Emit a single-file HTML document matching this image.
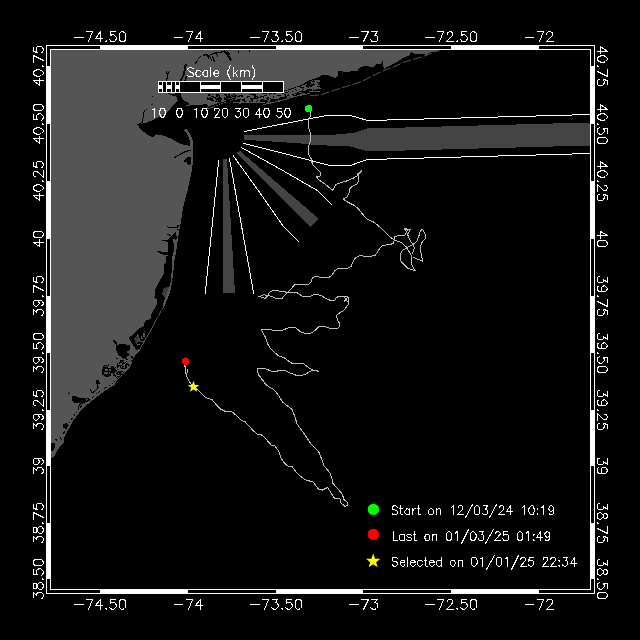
<!DOCTYPE html>
<html><head><meta charset="utf-8"><title>Track map</title>
<style>
html,body{margin:0;padding:0;background:#000;}
body{width:640px;height:640px;overflow:hidden;font-family:"Liberation Sans",sans-serif;}
svg{display:block;}
</style></head><body>
<svg width="640" height="640" viewBox="0 0 640 640" role="img" aria-label="Glider track map">
<title>Track map</title><desc>Scale (km) 10 0 10 20 30 40 50. Start on 12/03/24 10:19. Last on 01/03/25 01:49. Selected on 01/01/25 22:34. Longitude -74.50 to -72, latitude 38.50 to 40.75.</desc>
<polygon shape-rendering="crispEdges" points="51.00,50.00 441.00,50.00 436.00,51.00 430.00,52.40 426.00,55.00 422.50,53.60 415.00,54.00 411.00,52.00 410.00,55.00 405.00,56.75 397.00,62.00 392.50,64.00 384.40,68.60 383.75,68.00 382.50,60.50 381.25,63.60 376.25,64.25 372.50,67.40 367.50,66.00 360.00,66.75 357.50,70.50 343.75,72.40 342.50,71.00 337.50,71.00 338.00,76.00 335.00,78.00 327.50,75.00 321.25,75.00 315.00,80.50 310.00,80.00 300.00,85.50 292.00,88.00 284.00,91.00 270.00,93.00 250.00,94.50 238.00,95.00 238.00,100.00 234.00,99.30 207.20,109.60 206.60,108.60 208.00,105.50 206.00,104.00 200.00,105.00 192.00,105.20 186.00,106.20 185.80,105.20 190.00,104.20 187.00,102.00 182.00,99.00 180.50,93.00 180.50,87.00 175.00,87.00 175.00,93.00 178.50,100.00 171.00,108.00 165.00,114.00 155.00,119.00 146.00,123.00 137.00,124.00 141.25,130.00 146.25,133.75 152.50,137.50 156.25,134.40 163.75,135.60 171.25,138.75 178.75,143.00 185.00,145.00 190.50,146.00 192.80,146.00 193.00,150.00 192.50,165.00 191.90,170.00 188.00,188.75 183.00,207.50 181.00,222.00 179.40,230.00 178.40,236.00 177.00,245.00 175.60,255.00 174.00,262.00 173.75,267.50 172.00,282.50 170.00,292.50 165.00,305.00 158.75,316.00 151.00,331.00 145.00,341.00 140.00,350.00 133.75,357.50 130.00,367.50 122.50,375.00 117.00,380.00 114.75,385.00 106.00,390.00 96.00,397.50 89.75,402.50 83.50,407.50 78.50,413.75 73.60,420.00 68.50,429.40 63.80,437.80 63.80,442.50 58.20,449.00 55.40,454.70 52.50,457.50 51.00,458.00" fill="#555555" />
<polyline points="185.80,63.60 184.80,70.00 183.60,75.00 181.50,79.00 180.00,84.00" fill="none" stroke="#000000" stroke-width="2" shape-rendering="crispEdges"/>
<polygon shape-rendering="crispEdges" points="176.00,92.00 180.00,92.00 181.50,97.00 181.00,101.00 178.00,101.50 176.50,97.00" fill="#000000" />
<polyline points="185.00,81.00 186.50,76.50" fill="none" stroke="#000000" stroke-width="1.6" shape-rendering="crispEdges"/>
<polyline points="195.00,64.00 197.50,60.50" fill="none" stroke="#000000" stroke-width="1" shape-rendering="crispEdges"/>
<polyline points="198.50,59.00 200.60,56.00" fill="none" stroke="#000000" stroke-width="1" shape-rendering="crispEdges"/>
<polyline points="203.00,55.50 206.00,54.50 209.00,55.50 212.00,54.00 215.00,53.00 219.00,52.50 222.50,51.75 225.00,51.00" fill="none" stroke="#000000" stroke-width="1.3" shape-rendering="crispEdges"/>
<polyline points="206.50,54.50 209.00,58.50" fill="none" stroke="#000000" stroke-width="1.3" shape-rendering="crispEdges"/>
<polyline points="209.50,56.00 212.00,61.00" fill="none" stroke="#000000" stroke-width="1.3" shape-rendering="crispEdges"/>
<polyline points="212.50,56.50 214.50,62.00" fill="none" stroke="#000000" stroke-width="1.3" shape-rendering="crispEdges"/>
<polyline points="216.00,53.50 218.00,57.00" fill="none" stroke="#000000" stroke-width="1" shape-rendering="crispEdges"/>
<polyline points="224.00,51.00 227.00,54.00 229.00,57.00 231.00,60.50" fill="none" stroke="#000000" stroke-width="2.2" shape-rendering="crispEdges"/>
<polyline points="227.00,51.50 230.00,55.00" fill="none" stroke="#000000" stroke-width="1.4" shape-rendering="crispEdges"/>
<rect x="238" y="51" width="1" height="2" fill="#000000"/>
<rect x="249" y="50" width="1" height="2" fill="#000000"/>
<polyline points="166.00,71.50 167.50,74.00 167.00,79.00 165.00,84.00 168.00,93.00 172.00,95.00 177.00,95.00" fill="none" stroke="#000000" stroke-width="1.2" shape-rendering="crispEdges"/>
<polyline points="169.50,71.50 167.50,75.00" fill="none" stroke="#000000" stroke-width="1" shape-rendering="crispEdges"/>
<rect x="152" y="96" width="1" height="1" fill="#000000"/>
<rect x="151.5" y="103.5" width="1" height="1.5" fill="#000000"/>
<rect x="146" y="109" width="1" height="1" fill="#000000"/>
<polyline points="145.00,110.50 143.60,112.50 143.00,118.00 142.40,122.50 139.00,124.00" fill="none" stroke="#000000" stroke-width="1" shape-rendering="crispEdges"/>
<polygon shape-rendering="crispEdges" points="209.00,106.00 208.00,108.40 226.00,101.80 226.00,100.80" fill="#000000" />
<polygon shape-rendering="crispEdges" points="238.00,95.00 250.00,94.50 270.00,93.00 284.00,91.00 292.00,88.00 300.00,85.50 310.00,80.00 322.00,76.00 322.00,91.00 310.00,94.00 295.00,97.00 275.00,102.50 262.00,104.50 238.00,104.00" fill="#000000" />
<rect x="264" y="94" width="4" height="1" fill="#555555"/>
<rect x="244" y="97" width="2" height="1" fill="#555555"/>
<rect x="311" y="81" width="1" height="2" fill="#555555"/>
<rect x="271" y="94" width="3" height="2" fill="#555555"/>
<rect x="243" y="97" width="1" height="1" fill="#555555"/>
<rect x="284" y="93" width="1" height="1" fill="#555555"/>
<rect x="283" y="92" width="2" height="1" fill="#555555"/>
<rect x="281" y="94" width="3" height="1" fill="#555555"/>
<rect x="246" y="97" width="1" height="1" fill="#555555"/>
<rect x="246" y="98" width="3" height="1" fill="#555555"/>
<rect x="288" y="92" width="3" height="2" fill="#555555"/>
<rect x="300" y="88" width="2" height="1" fill="#555555"/>
<rect x="262" y="98" width="4" height="1" fill="#555555"/>
<rect x="245" y="96" width="2" height="1" fill="#555555"/>
<rect x="296" y="88" width="1" height="1" fill="#555555"/>
<rect x="279" y="93" width="2" height="1" fill="#555555"/>
<rect x="313" y="82" width="4" height="1" fill="#555555"/>
<rect x="299" y="89" width="2" height="1" fill="#555555"/>
<rect x="294" y="91" width="3" height="2" fill="#555555"/>
<rect x="244" y="95" width="2" height="2" fill="#555555"/>
<rect x="294" y="88" width="4" height="1" fill="#555555"/>
<rect x="290" y="94" width="2" height="1" fill="#555555"/>
<rect x="295" y="92" width="2" height="1" fill="#555555"/>
<rect x="313" y="82" width="3" height="1" fill="#555555"/>
<rect x="277" y="93" width="2" height="1" fill="#555555"/>
<rect x="297" y="89" width="2" height="1" fill="#555555"/>
<rect x="251" y="96" width="2" height="1" fill="#555555"/>
<rect x="304" y="89" width="2" height="2" fill="#555555"/>
<rect x="317" y="83" width="2" height="1" fill="#555555"/>
<rect x="250" y="95" width="1" height="1" fill="#555555"/>
<rect x="239" y="98" width="1" height="1" fill="#555555"/>
<rect x="261" y="95" width="3" height="1" fill="#555555"/>
<rect x="287" y="91" width="1" height="1" fill="#555555"/>
<rect x="275" y="97" width="4" height="2" fill="#555555"/>
<rect x="270" y="95" width="2" height="2" fill="#555555"/>
<rect x="243" y="95" width="1" height="2" fill="#555555"/>
<rect x="251" y="96" width="1" height="1" fill="#555555"/>
<rect x="238" y="95" width="1" height="1" fill="#555555"/>
<rect x="287" y="90" width="1" height="2" fill="#555555"/>
<rect x="250" y="96" width="2" height="1" fill="#555555"/>
<rect x="276" y="93" width="2" height="2" fill="#555555"/>
<rect x="276" y="94" width="1" height="1" fill="#555555"/>
<rect x="298" y="90" width="2" height="1" fill="#555555"/>
<rect x="279" y="93" width="3" height="1" fill="#555555"/>
<rect x="250" y="97" width="1" height="1" fill="#555555"/>
<rect x="316" y="85" width="4" height="1" fill="#555555"/>
<rect x="279" y="96" width="2" height="1" fill="#555555"/>
<rect x="281" y="95" width="2" height="1" fill="#555555"/>
<rect x="287" y="94" width="1" height="1" fill="#555555"/>
<rect x="303" y="88" width="1" height="1" fill="#555555"/>
<rect x="279" y="93" width="1" height="1" fill="#555555"/>
<rect x="301" y="88" width="1" height="1" fill="#555555"/>
<rect x="274" y="97" width="2" height="1" fill="#555555"/>
<rect x="244" y="95" width="2" height="1" fill="#555555"/>
<rect x="265" y="96" width="3" height="1" fill="#555555"/>
<rect x="276" y="96" width="4" height="1" fill="#555555"/>
<rect x="305" y="84" width="2" height="1" fill="#555555"/>
<rect x="276" y="93" width="4" height="1" fill="#555555"/>
<rect x="245" y="99" width="4" height="2" fill="#555555"/>
<rect x="275" y="96" width="1" height="1" fill="#555555"/>
<rect x="252" y="95" width="1" height="2" fill="#555555"/>
<rect x="303" y="85" width="3" height="2" fill="#555555"/>
<rect x="291" y="90" width="3" height="1" fill="#555555"/>
<rect x="240" y="98" width="4" height="1" fill="#555555"/>
<rect x="280" y="96" width="2" height="1" fill="#555555"/>
<rect x="304" y="85" width="2" height="1" fill="#555555"/>
<rect x="261" y="95" width="3" height="1" fill="#555555"/>
<rect x="259" y="96" width="1" height="1" fill="#555555"/>
<rect x="311" y="82" width="2" height="2" fill="#555555"/>
<rect x="304" y="89" width="1" height="1" fill="#555555"/>
<rect x="280" y="92" width="2" height="1" fill="#555555"/>
<rect x="287" y="94" width="1" height="1" fill="#555555"/>
<rect x="249" y="98" width="1" height="1" fill="#555555"/>
<rect x="264" y="96" width="3" height="2" fill="#555555"/>
<rect x="301" y="86" width="3" height="1" fill="#555555"/>
<rect x="258" y="95" width="1" height="2" fill="#555555"/>
<rect x="283" y="95" width="1" height="2" fill="#555555"/>
<rect x="264" y="99" width="3" height="1" fill="#555555"/>
<rect x="293" y="90" width="3" height="2" fill="#555555"/>
<rect x="279" y="93" width="3" height="1" fill="#555555"/>
<rect x="312" y="86" width="1" height="2" fill="#555555"/>
<rect x="249" y="95" width="2" height="1" fill="#555555"/>
<rect x="244" y="96" width="1" height="1" fill="#555555"/>
<rect x="292" y="92" width="1" height="1" fill="#555555"/>
<rect x="249" y="99" width="2" height="1" fill="#555555"/>
<rect x="298" y="87" width="2" height="1" fill="#555555"/>
<rect x="317" y="84" width="1" height="2" fill="#555555"/>
<rect x="318" y="81" width="2" height="1" fill="#555555"/>
<rect x="267" y="94" width="2" height="1" fill="#555555"/>
<rect x="265" y="96" width="4" height="1" fill="#555555"/>
<rect x="269" y="96" width="2" height="1" fill="#555555"/>
<rect x="247" y="99" width="1" height="1" fill="#555555"/>
<rect x="245" y="96" width="1" height="1" fill="#555555"/>
<rect x="298" y="90" width="4" height="1" fill="#555555"/>
<rect x="270" y="96" width="3" height="2" fill="#555555"/>
<rect x="294" y="88" width="1" height="1" fill="#555555"/>
<rect x="272" y="93" width="1" height="1" fill="#555555"/>
<rect x="302" y="85" width="1" height="1" fill="#555555"/>
<rect x="259" y="94" width="1" height="1" fill="#555555"/>
<rect x="318" y="81" width="2" height="1" fill="#555555"/>
<rect x="241" y="98" width="1" height="1" fill="#555555"/>
<rect x="259" y="95" width="2" height="1" fill="#555555"/>
<rect x="280" y="93" width="2" height="1" fill="#555555"/>
<rect x="260" y="98" width="2" height="1" fill="#555555"/>
<rect x="239" y="98" width="3" height="1" fill="#555555"/>
<rect x="279" y="93" width="2" height="1" fill="#555555"/>
<rect x="291" y="92" width="4" height="2" fill="#555555"/>
<rect x="282" y="96" width="3" height="1" fill="#555555"/>
<rect x="293" y="93" width="2" height="1" fill="#555555"/>
<rect x="305" y="88" width="4" height="1" fill="#555555"/>
<rect x="270" y="95" width="1" height="1" fill="#555555"/>
<rect x="239" y="97" width="2" height="2" fill="#555555"/>
<rect x="251" y="95" width="2" height="1" fill="#555555"/>
<rect x="286" y="94" width="1" height="2" fill="#555555"/>
<rect x="253" y="96" width="1" height="1" fill="#555555"/>
<rect x="267" y="95" width="3" height="1" fill="#555555"/>
<rect x="258" y="99" width="2" height="1" fill="#555555"/>
<rect x="267" y="93" width="2" height="1" fill="#555555"/>
<rect x="276" y="95" width="1" height="1" fill="#555555"/>
<rect x="278" y="92" width="2" height="1" fill="#555555"/>
<rect x="250" y="97" width="2" height="1" fill="#555555"/>
<rect x="262" y="97" width="1" height="1" fill="#555555"/>
<rect x="291" y="92" width="3" height="2" fill="#555555"/>
<rect x="299" y="90" width="2" height="1" fill="#555555"/>
<rect x="261" y="97" width="1" height="1" fill="#555555"/>
<rect x="304" y="88" width="3" height="2" fill="#555555"/>
<rect x="297" y="91" width="1" height="1" fill="#555555"/>
<rect x="304" y="87" width="4" height="1" fill="#555555"/>
<rect x="245" y="95" width="4" height="1" fill="#555555"/>
<rect x="315" y="81" width="2" height="1" fill="#555555"/>
<rect x="288" y="92" width="4" height="1" fill="#555555"/>
<rect x="277" y="92" width="1" height="1" fill="#555555"/>
<rect x="291" y="89" width="4" height="2" fill="#555555"/>
<rect x="258" y="94" width="2" height="1" fill="#555555"/>
<rect x="296" y="88" width="4" height="2" fill="#555555"/>
<rect x="278" y="94" width="2" height="1" fill="#555555"/>
<rect x="299" y="89" width="4" height="1" fill="#555555"/>
<rect x="244" y="95" width="2" height="1" fill="#555555"/>
<rect x="288" y="90" width="2" height="1" fill="#555555"/>
<rect x="277" y="97" width="1" height="1" fill="#555555"/>
<rect x="292" y="89" width="3" height="1" fill="#555555"/>
<rect x="275" y="95" width="1" height="1" fill="#555555"/>
<rect x="263" y="94" width="2" height="1" fill="#555555"/>
<rect x="261" y="94" width="3" height="2" fill="#555555"/>
<rect x="318" y="81" width="1" height="1" fill="#555555"/>
<rect x="285" y="91" width="3" height="1" fill="#555555"/>
<rect x="314" y="80" width="4" height="1" fill="#555555"/>
<rect x="309" y="86" width="1" height="2" fill="#555555"/>
<rect x="310" y="84" width="1" height="1" fill="#555555"/>
<rect x="238" y="97" width="2" height="2" fill="#555555"/>
<rect x="262" y="94" width="2" height="2" fill="#555555"/>
<rect x="263" y="98" width="1" height="1" fill="#555555"/>
<rect x="298" y="91" width="1" height="1" fill="#555555"/>
<rect x="295" y="92" width="2" height="1" fill="#555555"/>
<rect x="268" y="95" width="3" height="1" fill="#555555"/>
<rect x="267" y="96" width="2" height="1" fill="#555555"/>
<rect x="260" y="94" width="4" height="1" fill="#555555"/>
<rect x="289" y="90" width="2" height="2" fill="#555555"/>
<rect x="279" y="93" width="2" height="2" fill="#555555"/>
<rect x="309" y="87" width="4" height="2" fill="#555555"/>
<rect x="311" y="87" width="3" height="1" fill="#555555"/>
<rect x="296" y="87" width="4" height="2" fill="#555555"/>
<rect x="274" y="96" width="4" height="1" fill="#555555"/>
<rect x="277" y="97" width="3" height="1" fill="#555555"/>
<rect x="252" y="97" width="2" height="1" fill="#555555"/>
<rect x="258" y="98" width="4" height="1" fill="#555555"/>
<rect x="270" y="94" width="2" height="2" fill="#555555"/>
<rect x="248" y="98" width="1" height="1" fill="#555555"/>
<rect x="278" y="96" width="3" height="1" fill="#555555"/>
<rect x="274" y="94" width="2" height="2" fill="#555555"/>
<rect x="249" y="95" width="1" height="1" fill="#555555"/>
<rect x="265" y="94" width="1" height="1" fill="#555555"/>
<rect x="259" y="97" width="1" height="2" fill="#555555"/>
<rect x="269" y="97" width="1" height="2" fill="#555555"/>
<rect x="260" y="98" width="2" height="1" fill="#555555"/>
<rect x="284" y="93" width="4" height="1" fill="#555555"/>
<rect x="245" y="99" width="2" height="2" fill="#555555"/>
<rect x="290" y="91" width="2" height="1" fill="#555555"/>
<rect x="248" y="97" width="2" height="2" fill="#555555"/>
<rect x="238" y="96" width="3" height="2" fill="#555555"/>
<rect x="316" y="80" width="1" height="1" fill="#555555"/>
<rect x="250" y="97" width="4" height="1" fill="#555555"/>
<rect x="313" y="85" width="4" height="2" fill="#555555"/>
<rect x="245" y="98" width="1" height="1" fill="#555555"/>
<rect x="257" y="99" width="4" height="1" fill="#555555"/>
<rect x="315" y="83" width="3" height="2" fill="#555555"/>
<rect x="294" y="88" width="1" height="1" fill="#555555"/>
<rect x="280" y="94" width="2" height="1" fill="#555555"/>
<rect x="256" y="97" width="1" height="1" fill="#555555"/>
<rect x="318" y="80" width="2" height="1" fill="#555555"/>
<rect x="276" y="93" width="1" height="1" fill="#555555"/>
<rect x="315" y="84" width="2" height="1" fill="#555555"/>
<rect x="240" y="97" width="4" height="2" fill="#555555"/>
<rect x="244" y="96" width="2" height="1" fill="#555555"/>
<rect x="256" y="94" width="2" height="2" fill="#555555"/>
<rect x="267" y="95" width="1" height="1" fill="#555555"/>
<rect x="297" y="89" width="1" height="2" fill="#555555"/>
<rect x="316" y="81" width="1" height="1" fill="#555555"/>
<rect x="275" y="94" width="2" height="1" fill="#555555"/>
<rect x="314" y="83" width="1" height="1" fill="#555555"/>
<rect x="277" y="97" width="1" height="1" fill="#555555"/>
<rect x="312" y="80" width="1" height="1" fill="#555555"/>
<rect x="271" y="97" width="1" height="2" fill="#555555"/>
<rect x="274" y="96" width="2" height="1" fill="#555555"/>
<rect x="318" y="85" width="2" height="1" fill="#555555"/>
<rect x="253" y="99" width="4" height="2" fill="#555555"/>
<rect x="241" y="98" width="2" height="1" fill="#555555"/>
<rect x="317" y="81" width="1" height="1" fill="#555555"/>
<rect x="244" y="95" width="2" height="1" fill="#555555"/>
<rect x="283" y="95" width="2" height="1" fill="#555555"/>
<rect x="299" y="92" width="2" height="1" fill="#555555"/>
<rect x="242" y="101" width="2" height="2" fill="#555555"/>
<rect x="253" y="101" width="2" height="1" fill="#555555"/>
<rect x="289" y="95" width="4" height="2" fill="#555555"/>
<rect x="241" y="99" width="1" height="1" fill="#555555"/>
<rect x="259" y="102" width="3" height="1" fill="#555555"/>
<rect x="267" y="100" width="3" height="1" fill="#555555"/>
<rect x="259" y="102" width="2" height="1" fill="#555555"/>
<rect x="262" y="102" width="3" height="1" fill="#555555"/>
<rect x="240" y="100" width="2" height="2" fill="#555555"/>
<rect x="314" y="88" width="2" height="2" fill="#555555"/>
<rect x="303" y="90" width="2" height="1" fill="#555555"/>
<rect x="239" y="103" width="2" height="1" fill="#555555"/>
<rect x="287" y="96" width="2" height="2" fill="#555555"/>
<rect x="267" y="102" width="1" height="1" fill="#555555"/>
<rect x="269" y="99" width="2" height="1" fill="#555555"/>
<rect x="290" y="95" width="3" height="1" fill="#555555"/>
<rect x="251" y="101" width="1" height="1" fill="#555555"/>
<rect x="259" y="99" width="1" height="2" fill="#555555"/>
<rect x="278" y="100" width="2" height="1" fill="#555555"/>
<rect x="257" y="101" width="3" height="1" fill="#555555"/>
<rect x="298" y="95" width="4" height="1" fill="#555555"/>
<rect x="300" y="92" width="2" height="1" fill="#555555"/>
<rect x="268" y="101" width="1" height="2" fill="#555555"/>
<rect x="258" y="100" width="1" height="1" fill="#555555"/>
<rect x="309" y="91" width="2" height="1" fill="#555555"/>
<rect x="270" y="102" width="3" height="1" fill="#555555"/>
<rect x="290" y="94" width="2" height="1" fill="#555555"/>
<rect x="246" y="101" width="1" height="2" fill="#555555"/>
<rect x="311" y="87" width="2" height="1" fill="#555555"/>
<rect x="248" y="100" width="3" height="1" fill="#555555"/>
<rect x="312" y="89" width="1" height="2" fill="#555555"/>
<rect x="286" y="98" width="4" height="1" fill="#555555"/>
<rect x="246" y="102" width="3" height="1" fill="#555555"/>
<rect x="255" y="101" width="1" height="1" fill="#555555"/>
<rect x="254" y="100" width="3" height="1" fill="#555555"/>
<rect x="303" y="93" width="2" height="1" fill="#555555"/>
<rect x="253" y="101" width="1" height="1" fill="#555555"/>
<rect x="302" y="93" width="1" height="2" fill="#555555"/>
<rect x="246" y="101" width="3" height="1" fill="#555555"/>
<rect x="289" y="94" width="1" height="2" fill="#555555"/>
<rect x="294" y="94" width="2" height="1" fill="#555555"/>
<rect x="271" y="98" width="4" height="1" fill="#555555"/>
<rect x="271" y="98" width="2" height="1" fill="#555555"/>
<rect x="269" y="100" width="1" height="2" fill="#555555"/>
<rect x="234" y="97" width="1" height="2" fill="#000000"/>
<rect x="224" y="97" width="1" height="1" fill="#000000"/>
<rect x="207" y="98" width="3" height="2" fill="#000000"/>
<rect x="210" y="98" width="2" height="1" fill="#000000"/>
<rect x="211" y="96" width="3" height="1" fill="#000000"/>
<rect x="235" y="95" width="2" height="1" fill="#000000"/>
<rect x="216" y="100" width="1" height="2" fill="#000000"/>
<rect x="216" y="98" width="3" height="2" fill="#000000"/>
<rect x="210" y="99" width="3" height="1" fill="#000000"/>
<rect x="226" y="100" width="3" height="2" fill="#000000"/>
<rect x="225" y="95" width="2" height="1" fill="#000000"/>
<rect x="224" y="94" width="3" height="1" fill="#000000"/>
<rect x="219" y="95" width="1" height="1" fill="#000000"/>
<rect x="208" y="98" width="3" height="1" fill="#000000"/>
<rect x="227" y="96" width="2" height="2" fill="#000000"/>
<rect x="224" y="98" width="2" height="2" fill="#000000"/>
<rect x="216" y="96" width="2" height="1" fill="#000000"/>
<rect x="220" y="97" width="1" height="1" fill="#000000"/>
<rect x="226" y="97" width="1" height="2" fill="#000000"/>
<rect x="230" y="99" width="2" height="1" fill="#000000"/>
<rect x="231" y="97" width="1" height="1" fill="#000000"/>
<rect x="218" y="97" width="2" height="1" fill="#000000"/>
<rect x="208" y="95" width="3" height="1" fill="#000000"/>
<rect x="230" y="98" width="1" height="2" fill="#000000"/>
<rect x="227" y="99" width="1" height="1" fill="#000000"/>
<rect x="237" y="99" width="1" height="1" fill="#000000"/>
<rect x="211" y="100" width="2" height="1" fill="#000000"/>
<rect x="228" y="99" width="1" height="1" fill="#000000"/>
<rect x="232" y="98" width="2" height="1" fill="#000000"/>
<rect x="217" y="98" width="2" height="1" fill="#000000"/>
<rect x="215" y="101" width="2" height="1" fill="#000000"/>
<rect x="225" y="98" width="1" height="1" fill="#000000"/>
<rect x="218" y="95" width="2" height="1" fill="#000000"/>
<rect x="226" y="96" width="2" height="2" fill="#000000"/>
<rect x="212" y="99" width="1" height="1" fill="#000000"/>
<rect x="226" y="97" width="2" height="1" fill="#000000"/>
<rect x="215" y="98" width="2" height="1" fill="#000000"/>
<rect x="215" y="101" width="3" height="1" fill="#000000"/>
<rect x="218" y="99" width="2" height="1" fill="#000000"/>
<rect x="212" y="99" width="1" height="1" fill="#000000"/>
<rect x="232" y="96" width="3" height="1" fill="#000000"/>
<rect x="229" y="99" width="1" height="1" fill="#000000"/>
<rect x="216" y="98" width="2" height="1" fill="#000000"/>
<rect x="234" y="95" width="1" height="1" fill="#000000"/>
<rect x="208" y="94" width="2" height="1" fill="#000000"/>
<rect x="210" y="97" width="1" height="2" fill="#000000"/>
<rect x="225" y="98" width="1" height="1" fill="#000000"/>
<rect x="226" y="97" width="1" height="1" fill="#000000"/>
<rect x="235" y="96" width="1" height="2" fill="#000000"/>
<rect x="210" y="98" width="3" height="1" fill="#000000"/>
<rect x="219" y="96" width="1" height="1" fill="#000000"/>
<rect x="226" y="98" width="2" height="2" fill="#000000"/>
<rect x="225" y="98" width="2" height="1" fill="#000000"/>
<rect x="212" y="94" width="1" height="1" fill="#000000"/>
<rect x="219" y="96" width="1" height="1" fill="#000000"/>
<rect x="207" y="97" width="1" height="1" fill="#000000"/>
<rect x="219" y="98" width="3" height="2" fill="#000000"/>
<rect x="231" y="95" width="2" height="1" fill="#000000"/>
<rect x="216" y="94" width="3" height="2" fill="#000000"/>
<rect x="228" y="94" width="2" height="2" fill="#000000"/>
<rect x="209" y="98" width="1" height="1" fill="#000000"/>
<rect x="237" y="96" width="3" height="1" fill="#000000"/>
<rect x="211" y="100" width="3" height="1" fill="#000000"/>
<rect x="228" y="96" width="3" height="2" fill="#000000"/>
<rect x="228" y="100" width="2" height="1" fill="#000000"/>
<rect x="226" y="101" width="1" height="1" fill="#000000"/>
<rect x="233" y="94" width="2" height="1" fill="#000000"/>
<rect x="232" y="95" width="1" height="1" fill="#000000"/>
<rect x="213" y="97" width="3" height="1" fill="#000000"/>
<rect x="218" y="100" width="3" height="2" fill="#000000"/>
<polyline points="184.60,129.60 186.50,131.20 188.40,133.50 190.20,137.00 191.30,141.00 191.90,147.00" fill="none" stroke="#555555" stroke-width="2.7" shape-rendering="crispEdges"/>
<polyline points="174.40,157.50 180.00,154.40 186.25,151.25 191.25,150.00" fill="none" stroke="#000000" stroke-width="1.2" shape-rendering="crispEdges"/>
<polygon shape-rendering="crispEdges" points="184.00,160.00 187.00,157.50 190.50,157.00 191.00,164.00 188.00,165.00 186.50,162.00 184.00,162.50" fill="#000000" />
<polyline points="167.20,226.40 168.50,227.50 176.90,227.50 178.30,225.90" fill="none" stroke="#000000" stroke-width="1" shape-rendering="crispEdges"/>
<rect x="177" y="225" width="2" height="2" fill="#000000"/>
<rect x="177" y="229" width="1.5" height="1" fill="#000000"/>
<polygon shape-rendering="crispEdges" points="176.90,231.40 175.50,234.00 177.20,237.00 176.50,239.50 174.00,240.00 174.00,250.00 172.50,256.00 172.00,262.00 172.00,267.50 170.60,282.50 168.00,290.00 166.00,296.00 163.00,305.00 156.00,317.00 150.60,320.00 150.60,315.00 156.25,306.00 157.50,300.00 154.40,297.50 155.60,288.75 158.75,282.50 163.75,273.75 163.75,265.00 166.00,262.00 166.50,256.00 168.50,255.00 164.00,255.00 160.00,253.50 157.00,251.50 158.00,250.50 162.00,252.00 168.50,251.50 168.40,244.00 168.00,242.00 162.00,240.80 163.00,239.50 168.40,239.50 170.60,236.40 168.75,235.40 166.00,234.20 169.00,234.00 172.00,236.00 175.00,232.00" fill="#000000" />
<rect x="173" y="239" width="2" height="4" fill="#555555"/>
<polygon shape-rendering="crispEdges" points="164.00,288.00 170.00,286.00 169.00,296.00 165.00,298.00 162.00,294.00" fill="#555555" opacity="0.7"/>
<polygon shape-rendering="crispEdges" points="158.75,300.00 163.50,306.00 157.00,317.50 150.50,330.00 144.50,340.00 139.50,349.00 136.00,350.00 135.00,347.50 131.00,342.50 128.75,337.50 132.50,335.00 138.75,328.75 143.75,326.00 145.00,321.00 151.25,318.75 152.50,312.50 158.00,304.00" fill="#000000" />
<polygon shape-rendering="crispEdges" points="134.00,338.00 139.00,335.00 140.00,341.00 136.00,344.00" fill="#555555" opacity="0.6"/>
<polygon shape-rendering="crispEdges" points="112.50,340.60 115.00,340.00 117.00,342.50 117.50,345.00 121.00,344.00 130.00,345.00 130.00,350.00 127.00,351.00 127.00,353.00 131.00,354.00 123.75,358.75 118.75,355.00 115.60,350.00 116.00,344.00" fill="#000000" />
<rect x="122" y="367" width="1" height="1" fill="#000000"/>
<rect x="131" y="365" width="2" height="1" fill="#000000"/>
<rect x="124" y="362" width="2" height="1" fill="#000000"/>
<rect x="121" y="368" width="3" height="1" fill="#000000"/>
<rect x="132" y="358" width="1" height="1" fill="#000000"/>
<rect x="116" y="377" width="1" height="1" fill="#000000"/>
<rect x="117" y="376" width="3" height="1" fill="#000000"/>
<rect x="131" y="356" width="2" height="2" fill="#000000"/>
<rect x="126" y="361" width="1" height="1" fill="#000000"/>
<rect x="115" y="373" width="2" height="1" fill="#000000"/>
<rect x="119" y="362" width="1" height="2" fill="#000000"/>
<rect x="118" y="371" width="1" height="2" fill="#000000"/>
<rect x="125" y="365" width="1" height="2" fill="#000000"/>
<rect x="121" y="365" width="1" height="1" fill="#000000"/>
<rect x="120" y="371" width="3" height="1" fill="#000000"/>
<rect x="119" y="365" width="3" height="1" fill="#000000"/>
<rect x="117" y="372" width="1" height="1" fill="#000000"/>
<rect x="120" y="374" width="1" height="2" fill="#000000"/>
<rect x="125" y="358" width="2" height="1" fill="#000000"/>
<rect x="132" y="360" width="2" height="1" fill="#000000"/>
<rect x="126" y="363" width="2" height="2" fill="#000000"/>
<rect x="128" y="364" width="1" height="1" fill="#000000"/>
<rect x="120" y="361" width="2" height="2" fill="#000000"/>
<rect x="117" y="365" width="3" height="1" fill="#000000"/>
<rect x="125" y="366" width="2" height="2" fill="#000000"/>
<rect x="131" y="360" width="2" height="1" fill="#000000"/>
<rect x="118" y="372" width="3" height="1" fill="#000000"/>
<rect x="116" y="358" width="2" height="1" fill="#000000"/>
<rect x="120" y="360" width="2" height="1" fill="#000000"/>
<rect x="126" y="359" width="2" height="1" fill="#000000"/>
<rect x="128" y="365" width="2" height="1" fill="#000000"/>
<rect x="115" y="375" width="1" height="2" fill="#000000"/>
<rect x="117" y="363" width="1" height="1" fill="#000000"/>
<rect x="122" y="360" width="1" height="2" fill="#000000"/>
<rect x="125" y="364" width="2" height="1" fill="#000000"/>
<rect x="121" y="360" width="3" height="1" fill="#000000"/>
<rect x="126" y="365" width="1" height="2" fill="#000000"/>
<rect x="118" y="371" width="2" height="2" fill="#000000"/>
<polygon shape-rendering="crispEdges" points="103.00,366.00 108.00,364.00 113.00,366.00 117.00,371.00 114.00,377.00 106.00,377.00 101.50,376.00" fill="#000000" />
<rect x="105" y="369" width="2" height="1" fill="#555555"/>
<rect x="105" y="369" width="2" height="2" fill="#555555"/>
<rect x="101" y="375" width="3" height="1" fill="#555555"/>
<rect x="111" y="376" width="2" height="1" fill="#555555"/>
<rect x="105" y="366" width="2" height="1" fill="#555555"/>
<rect x="109" y="365" width="3" height="1" fill="#555555"/>
<rect x="108" y="366" width="2" height="2" fill="#555555"/>
<rect x="109" y="372" width="1" height="2" fill="#555555"/>
<rect x="109" y="369" width="2" height="2" fill="#555555"/>
<rect x="104" y="372" width="2" height="2" fill="#555555"/>
<rect x="109" y="376" width="3" height="1" fill="#555555"/>
<rect x="107" y="364" width="1" height="2" fill="#555555"/>
<rect x="107" y="364" width="1" height="1" fill="#555555"/>
<rect x="107" y="369" width="1" height="2" fill="#555555"/>
<rect x="110" y="365" width="1" height="2" fill="#555555"/>
<rect x="112" y="376" width="3" height="1" fill="#555555"/>
<rect x="104" y="376" width="1" height="1" fill="#555555"/>
<rect x="114" y="372" width="2" height="2" fill="#555555"/>
<rect x="111" y="373" width="2" height="1" fill="#555555"/>
<rect x="106" y="372" width="2" height="2" fill="#555555"/>
<rect x="108" y="367" width="3" height="1" fill="#555555"/>
<rect x="111" y="374" width="2" height="2" fill="#555555"/>
<rect x="113" y="367" width="1" height="2" fill="#000000"/>
<rect x="117" y="373" width="1" height="2" fill="#000000"/>
<rect x="114" y="371" width="1" height="2" fill="#000000"/>
<rect x="117" y="367" width="1" height="1" fill="#000000"/>
<rect x="120" y="366" width="1" height="2" fill="#000000"/>
<rect x="122" y="363" width="1" height="2" fill="#000000"/>
<rect x="120" y="365" width="1" height="1" fill="#000000"/>
<rect x="118" y="374" width="2" height="1" fill="#000000"/>
<rect x="122" y="366" width="2" height="1" fill="#000000"/>
<rect x="111" y="367" width="3" height="1" fill="#000000"/>
<rect x="119" y="373" width="3" height="1" fill="#000000"/>
<rect x="122" y="374" width="2" height="1" fill="#000000"/>
<rect x="117" y="364" width="1" height="1" fill="#000000"/>
<rect x="122" y="368" width="1" height="1" fill="#000000"/>
<rect x="118" y="365" width="2" height="1" fill="#000000"/>
<rect x="123" y="368" width="3" height="1" fill="#000000"/>
<rect x="117" y="369" width="1" height="1" fill="#000000"/>
<rect x="111" y="366" width="3" height="1" fill="#000000"/>
<rect x="117" y="365" width="2" height="2" fill="#000000"/>
<rect x="115" y="367" width="1" height="1" fill="#000000"/>
<rect x="111" y="366" width="1" height="1" fill="#000000"/>
<rect x="123" y="362" width="2" height="2" fill="#000000"/>
<polygon shape-rendering="crispEdges" points="72.00,396.50 76.00,397.00 80.00,398.50 84.00,398.00 86.00,401.00 82.00,403.50 78.00,402.00 74.00,402.00 72.00,400.00" fill="#000000" />
<polyline points="82.00,402.00 79.00,406.00 78.00,409.00" fill="none" stroke="#000000" stroke-width="1.2" shape-rendering="crispEdges"/>
<rect x="68" y="392.5" width="1.5" height="1.5" fill="#000000"/>
<polygon shape-rendering="crispEdges" points="96.00,380.00 99.00,380.50 100.00,383.50 97.50,385.00 95.50,383.00" fill="#000000" />
<polyline points="90.00,389.00 92.00,393.00 95.00,391.00 99.00,387.00" fill="none" stroke="#000000" stroke-width="1" shape-rendering="crispEdges"/>
<polyline points="98.00,384.00 97.00,389.00" fill="none" stroke="#000000" stroke-width="1" shape-rendering="crispEdges"/>
<polygon shape-rendering="crispEdges" points="63.50,424.00 67.00,423.00 68.50,426.00 66.50,429.00 63.30,427.50" fill="#000000" />
<polygon shape-rendering="crispEdges" points="51.00,443.00 54.50,443.50 55.00,447.00 53.00,451.00 51.00,451.00" fill="#000000" />
<polyline points="55.50,439.00 57.00,441.00" fill="none" stroke="#000000" stroke-width="1.2" shape-rendering="crispEdges"/>
<polyline points="60.00,437.00 61.50,440.00" fill="none" stroke="#000000" stroke-width="1.2" shape-rendering="crispEdges"/>
<polyline points="124.00,372.00 118.50,377.50 112.00,384.00 104.00,388.50 94.00,396.00 87.00,401.50 81.00,406.50 76.00,413.00 71.00,420.00 66.00,429.00 61.50,437.00" fill="none" stroke="#000000" stroke-width="1" stroke-dasharray="2 1.5 1 3 3 2 1 2" shape-rendering="crispEdges"/>
<polygon shape-rendering="crispEdges" points="72.00,396.00 76.00,396.50 80.00,398.00 84.50,397.50 86.50,400.50 85.00,403.00 81.00,404.00 78.00,402.50 74.00,402.50 71.50,400.00" fill="#000000" />
<rect x="86" y="398" width="3" height="1" fill="#000000"/>
<rect x="88" y="399" width="2" height="2" fill="#000000"/>
<rect x="141" y="336" width="1" height="2" fill="#555555"/>
<rect x="137" y="344" width="3" height="1" fill="#555555"/>
<rect x="143" y="333" width="2" height="2" fill="#555555"/>
<rect x="137" y="334" width="1" height="1" fill="#555555"/>
<rect x="143" y="335" width="2" height="2" fill="#555555"/>
<rect x="138" y="339" width="1" height="2" fill="#555555"/>
<rect x="135" y="338" width="1" height="1" fill="#555555"/>
<rect x="137" y="335" width="1" height="2" fill="#555555"/>
<rect x="138" y="339" width="2" height="2" fill="#555555"/>
<rect x="140" y="341" width="3" height="1" fill="#555555"/>
<rect x="141" y="341" width="3" height="1" fill="#555555"/>
<rect x="144" y="331" width="1" height="1" fill="#555555"/>
<rect x="141" y="338" width="2" height="1" fill="#555555"/>
<rect x="137" y="344" width="1" height="2" fill="#555555"/>
<polyline points="310.00,95.50 320.00,95.00 335.00,90.00 351.00,85.00 362.50,81.00 372.50,76.00 382.50,71.00 392.50,67.40 405.00,61.75 422.50,56.75 435.00,51.75 440.00,50.00" fill="none" stroke="#555555" stroke-width="1" stroke-dasharray="9 2"/>
<polyline points="233.00,102.00 262.00,102.00" fill="none" stroke="#555555" stroke-width="1" shape-rendering="crispEdges"/>
<polyline points="263.50,104.50 280.00,101.00 300.00,95.00 310.00,93.50" fill="none" stroke="#555555" stroke-width="1" shape-rendering="crispEdges"/>
<polyline points="310.00,91.00 320.00,91.00" fill="none" stroke="#555555" stroke-width="1" shape-rendering="crispEdges"/>
<polygon shape-rendering="crispEdges" points="312.00,88.50 315.00,87.00 320.00,87.50 321.00,89.00 313.00,89.50" fill="#555555" />
<polygon shape-rendering="crispEdges" points="244.00,135.00 300.00,135.20 334.40,134.70 353.00,133.00 368.00,128.00 368.00,151.00 365.60,150.80 348.40,146.00 318.75,145.30 300.00,143.40 280.00,142.00 244.00,139.75" fill="#444444" />
<rect x="368" y="128" width="37" height="23" fill="#444444"/>
<rect x="405" y="127" width="37" height="23" fill="#444444"/>
<rect x="442" y="126" width="36" height="23" fill="#444444"/>
<rect x="478" y="125" width="38" height="23" fill="#444444"/>
<rect x="516" y="124" width="37" height="23" fill="#444444"/>
<rect x="553" y="123" width="37" height="23" fill="#444444"/>
<polyline points="244.00,131.60 280.00,124.50 309.40,118.75 328.00,115.30 350.00,115.30 367.50,120.50" fill="none" stroke="#ffffff" stroke-width="1" shape-rendering="crispEdges"/>
<polyline points="243.00,143.25 280.00,152.50 312.50,161.00 329.00,165.30 350.80,165.30 367.50,159.50" fill="none" stroke="#ffffff" stroke-width="1" shape-rendering="crispEdges"/>
<rect x="367" y="120" width="20" height="1" fill="#ffffff"/>
<rect x="367" y="159" width="20" height="1" fill="#ffffff"/>
<rect x="387" y="119" width="37" height="1" fill="#ffffff"/>
<rect x="387" y="158" width="37" height="1" fill="#ffffff"/>
<rect x="424" y="118" width="37" height="1" fill="#ffffff"/>
<rect x="424" y="157" width="37" height="1" fill="#ffffff"/>
<rect x="461" y="117" width="37" height="1" fill="#ffffff"/>
<rect x="461" y="156" width="37" height="1" fill="#ffffff"/>
<rect x="498" y="116" width="38" height="1" fill="#ffffff"/>
<rect x="498" y="155" width="38" height="1" fill="#ffffff"/>
<rect x="536" y="115" width="36" height="1" fill="#ffffff"/>
<rect x="536" y="154" width="36" height="1" fill="#ffffff"/>
<rect x="572" y="114" width="18" height="1" fill="#ffffff"/>
<rect x="572" y="153" width="18" height="1" fill="#ffffff"/>
<polygon shape-rendering="crispEdges" points="236.25,153.00 240.00,151.00 318.75,218.75 310.60,226.90" fill="#444444" />
<polyline points="241.00,147.25 281.90,170.00 317.50,190.60 331.90,204.75" fill="none" stroke="#ffffff" stroke-width="1" shape-rendering="crispEdges"/>
<polyline points="233.00,155.40 260.00,193.00 283.75,226.90 298.75,241.90" fill="none" stroke="#ffffff" stroke-width="1" shape-rendering="crispEdges"/>
<polygon shape-rendering="crispEdges" points="222.70,159.00 227.00,159.00 235.00,292.75 223.10,292.75" fill="#444444" />
<polyline points="218.75,160.00 205.25,293.75" fill="none" stroke="#ffffff" stroke-width="1" shape-rendering="crispEdges"/>
<polyline points="229.40,158.25 253.75,293.75" fill="none" stroke="#ffffff" stroke-width="1" shape-rendering="crispEdges"/>
<polyline points="309.50,109.00 310.75,112.00 310.75,116.00 308.50,119.60 308.50,127.75 310.40,132.75 310.75,140.25 309.00,145.25 308.50,154.00 311.60,159.60 312.25,164.00 317.25,169.00 321.00,172.75 320.40,176.00 316.60,177.00 318.50,179.60 323.50,183.00 328.50,186.90 332.90,190.40 335.40,185.00 338.50,183.40 346.00,181.25 353.50,178.00 357.90,175.60 361.60,170.60 357.90,173.75 358.50,181.25 356.60,184.40 352.25,186.25 349.75,188.75 349.00,193.00 347.25,196.90 342.90,199.00 347.25,201.90 353.50,205.00 358.50,208.75 362.25,213.75 367.25,219.40 373.50,221.90 379.75,226.90 386.25,233.00 390.60,237.50 394.40,240.00 401.25,242.50 406.25,246.90 410.00,253.00 411.90,256.90 411.25,263.75 413.75,268.75 416.25,271.25 407.50,268.00 402.50,263.00 400.25,260.00 400.25,253.75 403.00,250.00 407.50,247.50 413.00,244.40 416.90,241.25 418.75,236.25 420.60,230.60 422.50,229.40 425.00,233.75 425.60,238.00 421.90,242.50 420.00,248.75 421.25,253.75 422.50,261.25 412.50,256.90" fill="none" stroke="#bebebe" stroke-width="1" shape-rendering="crispEdges"/>
<polyline points="412.50,253.75 414.40,247.50 413.00,245.00 410.00,240.00 407.50,234.40 410.60,229.40 407.50,230.00 404.40,228.75 406.25,231.25 405.60,235.00 395.00,236.25 394.40,240.00 393.00,243.75 382.50,245.60 379.40,248.75 375.60,255.00 371.25,256.25 365.00,256.25 360.00,255.60 355.60,257.50 352.50,262.50 351.25,266.25 348.00,268.00 338.75,268.00 335.00,270.60 331.90,275.00 329.40,277.25 321.25,277.25 315.60,276.50 312.50,277.50 311.25,282.00 308.75,284.40 295.00,284.40 290.00,290.00 286.25,293.75 283.00,296.90 282.50,298.50 276.25,298.50 271.90,296.50 268.00,295.60 265.00,298.50 259.40,296.50 261.90,295.60 264.40,294.40 266.90,296.25 270.00,291.90 273.75,290.40 277.50,290.40 280.00,291.50 285.00,291.90 287.50,292.50 296.90,292.50 302.50,296.25 310.00,296.25 315.00,294.40 321.25,295.25 325.00,298.00 330.00,300.25 335.00,300.25 336.25,297.50 339.40,296.25 343.75,296.90 347.50,296.25 348.75,299.40 348.50,304.40 343.75,310.60 340.00,312.50 336.50,315.60 337.50,320.00 339.75,323.75 339.40,326.50 337.50,328.50 328.75,328.00 324.40,326.50 318.75,326.50 316.25,329.40 313.00,331.90 310.00,333.40 305.60,333.40 300.60,331.90 295.60,327.50 290.00,327.25 282.50,330.25 272.50,330.25 271.25,329.40 261.25,329.40 262.50,332.50 265.60,337.50 267.50,343.75 270.00,348.00 278.00,355.60 283.75,357.50 292.50,363.75 296.90,364.00 298.75,363.00 303.00,363.00 307.50,366.90 312.50,370.00 318.75,371.25 312.50,370.25 305.00,374.40 302.50,375.25 296.25,375.25 290.00,373.00 284.40,370.25 279.40,370.25 276.90,371.25 271.90,371.25 264.40,368.50 258.00,368.50 257.25,371.25 258.75,375.00 262.50,380.00 266.25,385.00 270.00,387.50 273.75,389.40 278.75,395.60 282.50,402.00 287.00,405.60 292.00,409.40 295.00,417.00 297.00,423.75 299.40,427.50 303.00,432.00 307.50,438.75 311.25,444.40 318.75,452.00 321.25,458.00 323.75,465.60 330.00,473.00 332.50,480.60 333.00,483.50 338.75,490.00 342.50,494.40 343.75,499.40 347.50,502.50 347.50,505.00 345.00,506.50 340.60,502.50 340.00,498.50 334.40,498.00 327.50,487.50 322.50,490.00 318.75,489.40 313.00,482.00 305.00,479.75 297.50,473.75 292.50,467.00 288.00,466.25 283.40,462.00 281.00,457.80 278.75,451.25 275.00,446.00 271.25,445.00 268.40,441.90 264.70,437.60 261.00,434.50 257.20,434.20 252.50,430.00 247.80,424.50 245.00,421.70 241.25,420.50 236.25,415.40 231.25,411.25 225.00,411.25 220.60,409.00 216.25,404.75 211.90,399.50 205.60,397.50 201.90,394.00 197.50,389.75 193.50,386.00 190.60,383.50 188.75,380.40 186.25,376.00 185.60,369.00 184.75,365.40" fill="none" stroke="#bebebe" stroke-width="1" shape-rendering="crispEdges"/>
<polyline points="187.25,368.50 187.25,372.25 186.50,375.00" fill="none" stroke="#bebebe" stroke-width="1" shape-rendering="crispEdges"/>
<polyline points="343.75,297.00 346.25,299.40 343.75,302.00" fill="none" stroke="#bebebe" stroke-width="1" shape-rendering="crispEdges"/>
<polyline points="345.60,297.50 347.50,302.50" fill="none" stroke="#bebebe" stroke-width="1" shape-rendering="crispEdges"/>
<polyline points="404.40,228.75 410.60,229.40" fill="none" stroke="#bebebe" stroke-width="1" shape-rendering="crispEdges"/>
<rect x="305" y="106" width="7" height="5" fill="#00ff00"/>
<rect x="307" y="105" width="4" height="1" fill="#00ff00"/>
<rect x="306" y="111" width="5" height="1" fill="#00ff00"/>
<rect x="182" y="359" width="7" height="4" fill="#ff0000"/>
<rect x="183" y="358" width="5" height="1" fill="#ff0000"/>
<rect x="185" y="357" width="1" height="1" fill="#ff0000"/>
<rect x="183" y="363" width="6" height="1" fill="#ff0000"/>
<rect x="184" y="364" width="4" height="1" fill="#ff0000"/>
<polygon points="193.50,380.80 194.97,384.88 199.30,385.01 195.88,387.67 197.09,391.84 193.50,389.40 189.91,391.84 191.12,387.67 187.70,385.01 192.03,384.88" fill="#ffff00"/>
<rect x="158" y="81" width="126" height="12" fill="#ffffff"/>
<rect x="159" y="82" width="3" height="10" fill="#000000"/>
<rect x="159" y="85" width="3" height="4" fill="#ffffff"/>
<rect x="163" y="82" width="3" height="10" fill="#000000"/>
<rect x="167" y="82" width="4" height="10" fill="#000000"/>
<rect x="167" y="85" width="4" height="4" fill="#ffffff"/>
<rect x="172" y="82" width="3" height="10" fill="#000000"/>
<rect x="176" y="82" width="3" height="10" fill="#000000"/>
<rect x="176" y="85" width="3" height="4" fill="#ffffff"/>
<rect x="180" y="82" width="20" height="10" fill="#000000"/>
<rect x="201" y="82" width="19" height="10" fill="#000000"/>
<rect x="201" y="85" width="19" height="4" fill="#ffffff"/>
<rect x="221" y="82" width="20" height="10" fill="#000000"/>
<rect x="242" y="82" width="20" height="10" fill="#000000"/>
<rect x="242" y="85" width="20" height="4" fill="#ffffff"/>
<rect x="263" y="82" width="20" height="10" fill="#000000"/>
<path d="M193.50 68.50 L192.50 68.50 L191.50 67.50 L189.50 67.50 L188.50 68.50 L187.50 68.50 L187.50 69.50 L188.50 70.50 L188.50 70.50 L189.50 71.50 L191.50 72.50 L192.50 72.50 L192.50 73.50 L193.50 73.50 L193.50 75.50 L192.50 76.50 L191.50 76.50 L189.50 76.50 L188.50 76.50 L187.50 75.50 M200.50 71.50 L199.50 70.50 L198.50 70.50 L197.50 70.50 L196.50 70.50 L196.50 71.50 L195.50 73.50 L195.50 73.50 L196.50 75.50 L196.50 76.50 L197.50 76.50 L198.50 76.50 L199.50 76.50 L200.50 75.50 M207.50 70.50 L207.50 76.50 M207.50 71.50 L206.50 70.50 L206.50 70.50 L204.50 70.50 L204.50 70.50 L203.50 71.50 L202.50 73.50 L202.50 73.50 L203.50 75.50 L204.50 76.50 L204.50 76.50 L206.50 76.50 L206.50 76.50 L207.50 75.50 M210.50 67.50 L210.50 76.50 M213.50 73.50 L218.50 73.50 L218.50 72.50 L218.50 71.50 L217.50 70.50 L217.50 70.50 L215.50 70.50 L215.50 70.50 L214.50 71.50 L213.50 73.50 L213.50 73.50 L214.50 75.50 L215.50 76.50 L215.50 76.50 L217.50 76.50 L217.50 76.50 L218.50 75.50 M230.50 65.50 L229.50 66.50 L229.50 68.50 L228.50 69.50 L227.50 71.50 L227.50 73.50 L228.50 75.50 L229.50 77.50 L229.50 78.50 L230.50 79.50 M233.50 67.50 L233.50 76.50 M237.50 70.50 L233.50 74.50 M235.50 73.50 L237.50 76.50 M240.50 70.50 L240.50 76.50 M240.50 72.50 L241.50 70.50 L242.50 70.50 L243.50 70.50 L244.50 70.50 L244.50 72.50 L244.50 76.50 M244.50 72.50 L246.50 70.50 L246.50 70.50 L248.50 70.50 L248.50 70.50 L249.50 72.50 L249.50 76.50 M252.50 65.50 L252.50 66.50 L253.50 68.50 L254.50 69.50 L254.50 71.50 L254.50 73.50 L254.50 75.50 L253.50 77.50 L252.50 78.50 L252.50 79.50" fill="none" stroke="#ffffff" stroke-width="1" stroke-linecap="square" shape-rendering="crispEdges"/>
<path d="M152.50 109.50 L153.50 109.50 L154.50 108.50 L154.50 117.50 M162.50 108.50 L160.50 108.50 L160.50 109.50 L159.50 111.50 L159.50 113.50 L160.50 115.50 L160.50 116.50 L162.50 117.50 L162.50 117.50 L164.50 116.50 L164.50 115.50 L165.50 113.50 L165.50 111.50 L164.50 109.50 L164.50 108.50 L162.50 108.50 L162.50 108.50" fill="none" stroke="#ffffff" stroke-width="1" stroke-linecap="square" shape-rendering="crispEdges"/>
<path d="M179.50 108.50 L177.50 108.50 L177.50 109.50 L176.50 111.50 L176.50 113.50 L177.50 115.50 L177.50 116.50 L179.50 117.50 L179.50 117.50 L181.50 116.50 L181.50 115.50 L182.50 113.50 L182.50 111.50 L181.50 109.50 L181.50 108.50 L179.50 108.50 L179.50 108.50" fill="none" stroke="#ffffff" stroke-width="1" stroke-linecap="square" shape-rendering="crispEdges"/>
<path d="M194.50 109.50 L195.50 109.50 L196.50 108.50 L196.50 117.50 M204.50 108.50 L202.50 108.50 L202.50 109.50 L201.50 111.50 L201.50 113.50 L202.50 115.50 L202.50 116.50 L204.50 117.50 L204.50 117.50 L206.50 116.50 L206.50 115.50 L207.50 113.50 L207.50 111.50 L206.50 109.50 L206.50 108.50 L204.50 108.50 L204.50 108.50" fill="none" stroke="#ffffff" stroke-width="1" stroke-linecap="square" shape-rendering="crispEdges"/>
<path d="M214.50 110.50 L214.50 109.50 L214.50 108.50 L215.50 108.50 L216.50 108.50 L217.50 108.50 L218.50 108.50 L218.50 108.50 L219.50 109.50 L219.50 110.50 L218.50 111.50 L218.50 112.50 L214.50 117.50 L219.50 117.50 M224.50 108.50 L223.50 108.50 L222.50 109.50 L222.50 111.50 L222.50 113.50 L222.50 115.50 L223.50 116.50 L224.50 117.50 L225.50 117.50 L226.50 116.50 L227.50 115.50 L227.50 113.50 L227.50 111.50 L227.50 109.50 L226.50 108.50 L225.50 108.50 L224.50 108.50" fill="none" stroke="#ffffff" stroke-width="1" stroke-linecap="square" shape-rendering="crispEdges"/>
<path d="M235.50 108.50 L240.50 108.50 L237.50 111.50 L239.50 111.50 L239.50 111.50 L240.50 112.50 L240.50 113.50 L240.50 114.50 L240.50 115.50 L239.50 116.50 L238.50 117.50 L237.50 117.50 L235.50 116.50 L235.50 116.50 L235.50 115.50 M245.50 108.50 L244.50 108.50 L243.50 109.50 L243.50 111.50 L243.50 113.50 L243.50 115.50 L244.50 116.50 L245.50 117.50 L246.50 117.50 L247.50 116.50 L248.50 115.50 L248.50 113.50 L248.50 111.50 L248.50 109.50 L247.50 108.50 L246.50 108.50 L245.50 108.50" fill="none" stroke="#ffffff" stroke-width="1" stroke-linecap="square" shape-rendering="crispEdges"/>
<path d="M259.50 108.50 L255.50 114.50 L261.50 114.50 M259.50 108.50 L259.50 117.50 M266.50 108.50 L264.50 108.50 L264.50 109.50 L263.50 111.50 L263.50 113.50 L264.50 115.50 L264.50 116.50 L266.50 117.50 L266.50 117.50 L268.50 116.50 L268.50 115.50 L269.50 113.50 L269.50 111.50 L268.50 109.50 L268.50 108.50 L266.50 108.50 L266.50 108.50" fill="none" stroke="#ffffff" stroke-width="1" stroke-linecap="square" shape-rendering="crispEdges"/>
<path d="M281.50 108.50 L277.50 108.50 L277.50 111.50 L277.50 111.50 L278.50 111.50 L279.50 111.50 L281.50 111.50 L281.50 112.50 L282.50 113.50 L282.50 114.50 L281.50 115.50 L281.50 116.50 L279.50 117.50 L278.50 117.50 L277.50 116.50 L277.50 116.50 L276.50 115.50 M287.50 108.50 L285.50 108.50 L285.50 109.50 L284.50 111.50 L284.50 113.50 L285.50 115.50 L285.50 116.50 L287.50 117.50 L287.50 117.50 L289.50 116.50 L289.50 115.50 L290.50 113.50 L290.50 111.50 L289.50 109.50 L289.50 108.50 L287.50 108.50 L287.50 108.50" fill="none" stroke="#ffffff" stroke-width="1" stroke-linecap="square" shape-rendering="crispEdges"/>
<rect x="46" y="45" width="549" height="5" fill="#ffffff"/>
<rect x="46" y="589" width="549" height="5" fill="#ffffff"/>
<rect x="46" y="45" width="5" height="549" fill="#ffffff"/>
<rect x="590" y="45" width="5" height="549" fill="#ffffff"/>
<rect x="47" y="46" width="53" height="3" fill="#000000"/>
<rect x="47" y="590" width="53" height="3" fill="#000000"/>
<rect x="188" y="46" width="88" height="3" fill="#000000"/>
<rect x="188" y="590" width="88" height="3" fill="#000000"/>
<rect x="363" y="46" width="88" height="3" fill="#000000"/>
<rect x="363" y="590" width="88" height="3" fill="#000000"/>
<rect x="539" y="46" width="55" height="3" fill="#000000"/>
<rect x="539" y="590" width="55" height="3" fill="#000000"/>
<rect x="47" y="46" width="3" height="20" fill="#000000"/>
<rect x="591" y="46" width="3" height="20" fill="#000000"/>
<rect x="47" y="124" width="3" height="57" fill="#000000"/>
<rect x="591" y="124" width="3" height="57" fill="#000000"/>
<rect x="47" y="239" width="3" height="57" fill="#000000"/>
<rect x="591" y="239" width="3" height="57" fill="#000000"/>
<rect x="47" y="353" width="3" height="57" fill="#000000"/>
<rect x="591" y="353" width="3" height="57" fill="#000000"/>
<rect x="47" y="466" width="3" height="57" fill="#000000"/>
<rect x="591" y="466" width="3" height="57" fill="#000000"/>
<rect x="47" y="579" width="3" height="14" fill="#000000"/>
<rect x="591" y="579" width="3" height="14" fill="#000000"/>
<path d="M74.50 37.50 L83.50 37.50 M92.50 31.50 L88.50 41.50 M86.50 31.50 L92.50 31.50 M100.50 31.50 L95.50 38.50 L102.50 38.50 M100.50 31.50 L100.50 41.50 M106.50 40.50 L105.50 41.50 L106.50 41.50 L106.50 41.50 L106.50 40.50 M115.50 31.50 L110.50 31.50 L110.50 35.50 L110.50 35.50 L112.50 34.50 L113.50 34.50 L114.50 35.50 L115.50 36.50 L116.50 37.50 L116.50 38.50 L115.50 40.50 L114.50 41.50 L113.50 41.50 L112.50 41.50 L110.50 41.50 L110.50 40.50 L109.50 39.50 M121.50 31.50 L120.50 32.50 L119.50 33.50 L119.50 35.50 L119.50 37.50 L119.50 39.50 L120.50 41.50 L121.50 41.50 L122.50 41.50 L124.50 41.50 L125.50 39.50 L125.50 37.50 L125.50 35.50 L125.50 33.50 L124.50 32.50 L122.50 31.50 L121.50 31.50" fill="none" stroke="#ffffff" stroke-width="1" stroke-linecap="square" shape-rendering="crispEdges"/>
<path d="M74.50 604.50 L83.50 604.50 M92.50 599.50 L88.50 609.50 M86.50 599.50 L92.50 599.50 M100.50 599.50 L95.50 605.50 L102.50 605.50 M100.50 599.50 L100.50 609.50 M106.50 608.50 L105.50 608.50 L106.50 609.50 L106.50 608.50 L106.50 608.50 M115.50 599.50 L110.50 599.50 L110.50 603.50 L110.50 602.50 L112.50 602.50 L113.50 602.50 L114.50 602.50 L115.50 603.50 L116.50 605.50 L116.50 606.50 L115.50 607.50 L114.50 608.50 L113.50 609.50 L112.50 609.50 L110.50 608.50 L110.50 608.50 L109.50 607.50 M121.50 599.50 L120.50 599.50 L119.50 601.50 L119.50 603.50 L119.50 604.50 L119.50 607.50 L120.50 608.50 L121.50 609.50 L122.50 609.50 L124.50 608.50 L125.50 607.50 L125.50 604.50 L125.50 603.50 L125.50 601.50 L124.50 599.50 L122.50 599.50 L121.50 599.50" fill="none" stroke="#ffffff" stroke-width="1" stroke-linecap="square" shape-rendering="crispEdges"/>
<path d="M174.50 37.50 L182.50 37.50 M192.50 31.50 L188.50 41.50 M186.50 31.50 L192.50 31.50 M200.50 31.50 L195.50 38.50 L202.50 38.50 M200.50 31.50 L200.50 41.50" fill="none" stroke="#ffffff" stroke-width="1" stroke-linecap="square" shape-rendering="crispEdges"/>
<path d="M174.50 604.50 L182.50 604.50 M192.50 599.50 L188.50 609.50 M186.50 599.50 L192.50 599.50 M200.50 599.50 L195.50 605.50 L202.50 605.50 M200.50 599.50 L200.50 609.50" fill="none" stroke="#ffffff" stroke-width="1" stroke-linecap="square" shape-rendering="crispEdges"/>
<path d="M250.50 37.50 L259.50 37.50 M268.50 31.50 L264.50 41.50 M262.50 31.50 L268.50 31.50 M272.50 31.50 L277.50 31.50 L275.50 35.50 L276.50 35.50 L277.50 35.50 L277.50 36.50 L278.50 37.50 L278.50 38.50 L277.50 40.50 L276.50 41.50 L275.50 41.50 L274.50 41.50 L272.50 41.50 L272.50 40.50 L271.50 39.50 M282.50 40.50 L281.50 41.50 L282.50 41.50 L282.50 41.50 L282.50 40.50 M291.50 31.50 L286.50 31.50 L286.50 35.50 L286.50 35.50 L288.50 34.50 L289.50 34.50 L290.50 35.50 L291.50 36.50 L292.50 37.50 L292.50 38.50 L291.50 40.50 L290.50 41.50 L289.50 41.50 L288.50 41.50 L286.50 41.50 L286.50 40.50 L285.50 39.50 M297.50 31.50 L296.50 32.50 L295.50 33.50 L295.50 35.50 L295.50 37.50 L295.50 39.50 L296.50 41.50 L297.50 41.50 L298.50 41.50 L300.50 41.50 L301.50 39.50 L301.50 37.50 L301.50 35.50 L301.50 33.50 L300.50 32.50 L298.50 31.50 L297.50 31.50" fill="none" stroke="#ffffff" stroke-width="1" stroke-linecap="square" shape-rendering="crispEdges"/>
<path d="M250.50 604.50 L259.50 604.50 M268.50 599.50 L264.50 609.50 M262.50 599.50 L268.50 599.50 M272.50 599.50 L277.50 599.50 L275.50 602.50 L276.50 602.50 L277.50 603.50 L277.50 603.50 L278.50 605.50 L278.50 606.50 L277.50 607.50 L276.50 608.50 L275.50 609.50 L274.50 609.50 L272.50 608.50 L272.50 608.50 L271.50 607.50 M282.50 608.50 L281.50 608.50 L282.50 609.50 L282.50 608.50 L282.50 608.50 M291.50 599.50 L286.50 599.50 L286.50 603.50 L286.50 602.50 L288.50 602.50 L289.50 602.50 L290.50 602.50 L291.50 603.50 L292.50 605.50 L292.50 606.50 L291.50 607.50 L290.50 608.50 L289.50 609.50 L288.50 609.50 L286.50 608.50 L286.50 608.50 L285.50 607.50 M297.50 599.50 L296.50 599.50 L295.50 601.50 L295.50 603.50 L295.50 604.50 L295.50 607.50 L296.50 608.50 L297.50 609.50 L298.50 609.50 L300.50 608.50 L301.50 607.50 L301.50 604.50 L301.50 603.50 L301.50 601.50 L300.50 599.50 L298.50 599.50 L297.50 599.50" fill="none" stroke="#ffffff" stroke-width="1" stroke-linecap="square" shape-rendering="crispEdges"/>
<path d="M349.50 37.50 L358.50 37.50 M368.50 31.50 L363.50 41.50 M361.50 31.50 L368.50 31.50 M371.50 31.50 L377.50 31.50 L374.50 35.50 L375.50 35.50 L376.50 35.50 L377.50 36.50 L377.50 37.50 L377.50 38.50 L377.50 40.50 L376.50 41.50 L374.50 41.50 L373.50 41.50 L371.50 41.50 L371.50 40.50 L370.50 39.50" fill="none" stroke="#ffffff" stroke-width="1" stroke-linecap="square" shape-rendering="crispEdges"/>
<path d="M349.50 604.50 L358.50 604.50 M368.50 599.50 L363.50 609.50 M361.50 599.50 L368.50 599.50 M371.50 599.50 L377.50 599.50 L374.50 602.50 L375.50 602.50 L376.50 603.50 L377.50 603.50 L377.50 605.50 L377.50 606.50 L377.50 607.50 L376.50 608.50 L374.50 609.50 L373.50 609.50 L371.50 608.50 L371.50 608.50 L370.50 607.50" fill="none" stroke="#ffffff" stroke-width="1" stroke-linecap="square" shape-rendering="crispEdges"/>
<path d="M425.50 37.50 L434.50 37.50 M443.50 31.50 L439.50 41.50 M437.50 31.50 L443.50 31.50 M447.50 34.50 L447.50 33.50 L447.50 32.50 L448.50 32.50 L449.50 31.50 L451.50 31.50 L451.50 32.50 L452.50 32.50 L452.50 33.50 L452.50 34.50 L452.50 35.50 L451.50 36.50 L446.50 41.50 L453.50 41.50 M457.50 40.50 L456.50 41.50 L457.50 41.50 L457.50 41.50 L457.50 40.50 M466.50 31.50 L461.50 31.50 L461.50 35.50 L461.50 35.50 L463.50 34.50 L464.50 34.50 L465.50 35.50 L466.50 36.50 L467.50 37.50 L467.50 38.50 L466.50 40.50 L465.50 41.50 L464.50 41.50 L463.50 41.50 L461.50 41.50 L461.50 40.50 L460.50 39.50 M472.50 31.50 L471.50 32.50 L470.50 33.50 L470.50 35.50 L470.50 37.50 L470.50 39.50 L471.50 41.50 L472.50 41.50 L473.50 41.50 L475.50 41.50 L476.50 39.50 L476.50 37.50 L476.50 35.50 L476.50 33.50 L475.50 32.50 L473.50 31.50 L472.50 31.50" fill="none" stroke="#ffffff" stroke-width="1" stroke-linecap="square" shape-rendering="crispEdges"/>
<path d="M425.50 604.50 L434.50 604.50 M443.50 599.50 L439.50 609.50 M437.50 599.50 L443.50 599.50 M447.50 601.50 L447.50 601.50 L447.50 600.50 L448.50 599.50 L449.50 599.50 L451.50 599.50 L451.50 599.50 L452.50 600.50 L452.50 601.50 L452.50 601.50 L452.50 602.50 L451.50 604.50 L446.50 609.50 L453.50 609.50 M457.50 608.50 L456.50 608.50 L457.50 609.50 L457.50 608.50 L457.50 608.50 M466.50 599.50 L461.50 599.50 L461.50 603.50 L461.50 602.50 L463.50 602.50 L464.50 602.50 L465.50 602.50 L466.50 603.50 L467.50 605.50 L467.50 606.50 L466.50 607.50 L465.50 608.50 L464.50 609.50 L463.50 609.50 L461.50 608.50 L461.50 608.50 L460.50 607.50 M472.50 599.50 L471.50 599.50 L470.50 601.50 L470.50 603.50 L470.50 604.50 L470.50 607.50 L471.50 608.50 L472.50 609.50 L473.50 609.50 L475.50 608.50 L476.50 607.50 L476.50 604.50 L476.50 603.50 L476.50 601.50 L475.50 599.50 L473.50 599.50 L472.50 599.50" fill="none" stroke="#ffffff" stroke-width="1" stroke-linecap="square" shape-rendering="crispEdges"/>
<path d="M525.50 37.50 L533.50 37.50 M543.50 31.50 L539.50 41.50 M537.50 31.50 L543.50 31.50 M546.50 34.50 L546.50 33.50 L547.50 32.50 L547.50 32.50 L548.50 31.50 L550.50 31.50 L551.50 32.50 L552.50 32.50 L552.50 33.50 L552.50 34.50 L552.50 35.50 L551.50 36.50 L546.50 41.50 L553.50 41.50" fill="none" stroke="#ffffff" stroke-width="1" stroke-linecap="square" shape-rendering="crispEdges"/>
<path d="M525.50 604.50 L533.50 604.50 M543.50 599.50 L539.50 609.50 M537.50 599.50 L543.50 599.50 M546.50 601.50 L546.50 601.50 L547.50 600.50 L547.50 599.50 L548.50 599.50 L550.50 599.50 L551.50 599.50 L552.50 600.50 L552.50 601.50 L552.50 601.50 L552.50 602.50 L551.50 604.50 L546.50 609.50 L553.50 609.50" fill="none" stroke="#ffffff" stroke-width="1" stroke-linecap="square" shape-rendering="crispEdges"/>
<path d="M33.50 80.50 L39.50 85.50 L39.50 78.50 M33.50 80.50 L43.50 80.50 M33.50 73.50 L33.50 74.50 L35.50 75.50 L37.50 76.50 L38.50 76.50 L41.50 75.50 L42.50 74.50 L43.50 73.50 L43.50 72.50 L42.50 71.50 L41.50 70.50 L38.50 69.50 L37.50 69.50 L35.50 70.50 L33.50 71.50 L33.50 72.50 L33.50 73.50 M42.50 66.50 L42.50 66.50 L43.50 66.50 L42.50 65.50 L42.50 66.50 M33.50 55.50 L43.50 60.50 M33.50 62.50 L33.50 55.50 M33.50 47.50 L33.50 51.50 L37.50 52.50 L36.50 51.50 L36.50 50.50 L36.50 49.50 L36.50 47.50 L37.50 46.50 L39.50 46.50 L40.50 46.50 L41.50 46.50 L42.50 47.50 L43.50 49.50 L43.50 50.50 L42.50 51.50 L42.50 52.50 L41.50 52.50" fill="none" stroke="#ffffff" stroke-width="1" stroke-linecap="square" shape-rendering="crispEdges"/>
<path d="M607.50 51.50 L600.50 46.50 L600.50 53.50 M607.50 51.50 L597.50 51.50 M607.50 58.50 L606.50 57.50 L605.50 56.50 L603.50 55.50 L601.50 55.50 L599.50 56.50 L597.50 57.50 L597.50 58.50 L597.50 59.50 L597.50 60.50 L599.50 61.50 L601.50 62.50 L603.50 62.50 L605.50 61.50 L606.50 60.50 L607.50 59.50 L607.50 58.50 M598.50 66.50 L597.50 65.50 L597.50 66.50 L597.50 66.50 L598.50 66.50 M607.50 76.50 L597.50 71.50 M607.50 69.50 L607.50 76.50 M607.50 84.50 L607.50 80.50 L603.50 79.50 L603.50 80.50 L604.50 81.50 L604.50 82.50 L603.50 84.50 L602.50 85.50 L601.50 85.50 L600.50 85.50 L598.50 85.50 L597.50 84.50 L597.50 82.50 L597.50 81.50 L597.50 80.50 L598.50 79.50 L599.50 79.50" fill="none" stroke="#ffffff" stroke-width="1" stroke-linecap="square" shape-rendering="crispEdges"/>
<path d="M33.50 138.50 L39.50 143.50 L39.50 136.50 M33.50 138.50 L43.50 138.50 M33.50 131.50 L33.50 132.50 L35.50 133.50 L37.50 134.50 L38.50 134.50 L41.50 133.50 L42.50 132.50 L43.50 131.50 L43.50 130.50 L42.50 129.50 L41.50 128.50 L38.50 127.50 L37.50 127.50 L35.50 128.50 L33.50 129.50 L33.50 130.50 L33.50 131.50 M42.50 124.50 L42.50 124.50 L43.50 124.50 L42.50 123.50 L42.50 124.50 M33.50 114.50 L33.50 119.50 L37.50 119.50 L36.50 119.50 L36.50 117.50 L36.50 116.50 L36.50 115.50 L37.50 114.50 L39.50 113.50 L40.50 113.50 L41.50 114.50 L42.50 115.50 L43.50 116.50 L43.50 117.50 L42.50 119.50 L42.50 119.50 L41.50 120.50 M33.50 108.50 L33.50 109.50 L35.50 110.50 L37.50 110.50 L38.50 110.50 L41.50 110.50 L42.50 109.50 L43.50 108.50 L43.50 107.50 L42.50 105.50 L41.50 104.50 L38.50 104.50 L37.50 104.50 L35.50 104.50 L33.50 105.50 L33.50 107.50 L33.50 108.50" fill="none" stroke="#ffffff" stroke-width="1" stroke-linecap="square" shape-rendering="crispEdges"/>
<path d="M607.50 109.50 L600.50 104.50 L600.50 111.50 M607.50 109.50 L597.50 109.50 M607.50 116.50 L606.50 115.50 L605.50 114.50 L603.50 113.50 L601.50 113.50 L599.50 114.50 L597.50 115.50 L597.50 116.50 L597.50 117.50 L597.50 118.50 L599.50 119.50 L601.50 120.50 L603.50 120.50 L605.50 119.50 L606.50 118.50 L607.50 117.50 L607.50 116.50 M598.50 124.50 L597.50 123.50 L597.50 124.50 L597.50 124.50 L598.50 124.50 M607.50 133.50 L607.50 128.50 L603.50 128.50 L603.50 128.50 L604.50 130.50 L604.50 131.50 L603.50 132.50 L602.50 133.50 L601.50 134.50 L600.50 134.50 L598.50 133.50 L597.50 132.50 L597.50 131.50 L597.50 130.50 L597.50 128.50 L598.50 128.50 L599.50 127.50 M607.50 139.50 L606.50 138.50 L605.50 137.50 L603.50 137.50 L601.50 137.50 L599.50 137.50 L597.50 138.50 L597.50 139.50 L597.50 140.50 L597.50 142.50 L599.50 143.50 L601.50 143.50 L603.50 143.50 L605.50 143.50 L606.50 142.50 L607.50 140.50 L607.50 139.50" fill="none" stroke="#ffffff" stroke-width="1" stroke-linecap="square" shape-rendering="crispEdges"/>
<path d="M33.50 195.50 L39.50 200.50 L39.50 193.50 M33.50 195.50 L43.50 195.50 M33.50 188.50 L33.50 189.50 L35.50 190.50 L37.50 191.50 L38.50 191.50 L41.50 190.50 L42.50 189.50 L43.50 188.50 L43.50 187.50 L42.50 186.50 L41.50 185.50 L38.50 184.50 L37.50 184.50 L35.50 185.50 L33.50 186.50 L33.50 187.50 L33.50 188.50 M42.50 181.50 L42.50 181.50 L43.50 181.50 L42.50 180.50 L42.50 181.50 M35.50 176.50 L35.50 176.50 L34.50 176.50 L33.50 175.50 L33.50 174.50 L33.50 173.50 L33.50 172.50 L34.50 171.50 L35.50 171.50 L35.50 171.50 L36.50 171.50 L38.50 172.50 L43.50 177.50 L43.50 170.50 M33.50 162.50 L33.50 166.50 L37.50 167.50 L36.50 166.50 L36.50 165.50 L36.50 164.50 L36.50 162.50 L37.50 161.50 L39.50 161.50 L40.50 161.50 L41.50 161.50 L42.50 162.50 L43.50 164.50 L43.50 165.50 L42.50 166.50 L42.50 167.50 L41.50 167.50" fill="none" stroke="#ffffff" stroke-width="1" stroke-linecap="square" shape-rendering="crispEdges"/>
<path d="M607.50 166.50 L600.50 161.50 L600.50 168.50 M607.50 166.50 L597.50 166.50 M607.50 173.50 L606.50 172.50 L605.50 171.50 L603.50 170.50 L601.50 170.50 L599.50 171.50 L597.50 172.50 L597.50 173.50 L597.50 174.50 L597.50 175.50 L599.50 176.50 L601.50 177.50 L603.50 177.50 L605.50 176.50 L606.50 175.50 L607.50 174.50 L607.50 173.50 M598.50 181.50 L597.50 180.50 L597.50 181.50 L597.50 181.50 L598.50 181.50 M604.50 185.50 L605.50 185.50 L606.50 185.50 L606.50 186.50 L607.50 187.50 L607.50 188.50 L606.50 189.50 L606.50 190.50 L605.50 190.50 L604.50 190.50 L603.50 190.50 L602.50 189.50 L597.50 184.50 L597.50 191.50 M607.50 199.50 L607.50 195.50 L603.50 194.50 L603.50 195.50 L604.50 196.50 L604.50 197.50 L603.50 199.50 L602.50 200.50 L601.50 200.50 L600.50 200.50 L598.50 200.50 L597.50 199.50 L597.50 197.50 L597.50 196.50 L597.50 195.50 L598.50 194.50 L599.50 194.50" fill="none" stroke="#ffffff" stroke-width="1" stroke-linecap="square" shape-rendering="crispEdges"/>
<path d="M33.50 242.50 L39.50 246.50 L39.50 239.50 M33.50 242.50 L43.50 242.50 M33.50 234.50 L33.50 236.50 L35.50 237.50 L37.50 237.50 L38.50 237.50 L41.50 237.50 L42.50 236.50 L43.50 234.50 L43.50 233.50 L42.50 232.50 L41.50 231.50 L38.50 231.50 L37.50 231.50 L35.50 231.50 L33.50 232.50 L33.50 233.50 L33.50 234.50" fill="none" stroke="#ffffff" stroke-width="1" stroke-linecap="square" shape-rendering="crispEdges"/>
<path d="M607.50 235.50 L600.50 231.50 L600.50 238.50 M607.50 235.50 L597.50 235.50 M607.50 243.50 L606.50 241.50 L605.50 240.50 L603.50 240.50 L601.50 240.50 L599.50 240.50 L597.50 241.50 L597.50 243.50 L597.50 244.50 L597.50 245.50 L599.50 246.50 L601.50 246.50 L603.50 246.50 L605.50 246.50 L606.50 245.50 L607.50 244.50 L607.50 243.50" fill="none" stroke="#ffffff" stroke-width="1" stroke-linecap="square" shape-rendering="crispEdges"/>
<path d="M33.50 314.50 L33.50 309.50 L36.50 312.50 L36.50 310.50 L37.50 310.50 L37.50 309.50 L39.50 309.50 L40.50 309.50 L41.50 309.50 L42.50 310.50 L43.50 311.50 L43.50 313.50 L42.50 314.50 L42.50 315.50 L41.50 315.50 M36.50 300.50 L37.50 300.50 L38.50 301.50 L39.50 303.50 L39.50 303.50 L38.50 304.50 L37.50 305.50 L36.50 306.50 L35.50 306.50 L34.50 305.50 L33.50 304.50 L33.50 303.50 L33.50 303.50 L33.50 301.50 L34.50 300.50 L36.50 300.50 L38.50 300.50 L41.50 300.50 L42.50 301.50 L43.50 303.50 L43.50 303.50 L42.50 305.50 L41.50 305.50 M42.50 296.50 L42.50 296.50 L43.50 296.50 L42.50 295.50 L42.50 296.50 M33.50 285.50 L43.50 290.50 M33.50 292.50 L33.50 285.50 M33.50 277.50 L33.50 281.50 L37.50 282.50 L36.50 281.50 L36.50 280.50 L36.50 279.50 L36.50 277.50 L37.50 276.50 L39.50 276.50 L40.50 276.50 L41.50 276.50 L42.50 277.50 L43.50 279.50 L43.50 280.50 L42.50 281.50 L42.50 282.50 L41.50 282.50" fill="none" stroke="#ffffff" stroke-width="1" stroke-linecap="square" shape-rendering="crispEdges"/>
<path d="M607.50 277.50 L607.50 282.50 L603.50 279.50 L603.50 281.50 L603.50 281.50 L602.50 282.50 L601.50 282.50 L600.50 282.50 L598.50 282.50 L597.50 281.50 L597.50 280.50 L597.50 278.50 L597.50 277.50 L598.50 276.50 L599.50 276.50 M604.50 291.50 L602.50 291.50 L601.50 290.50 L601.50 288.50 L601.50 288.50 L601.50 287.50 L602.50 286.50 L604.50 285.50 L604.50 285.50 L605.50 286.50 L606.50 287.50 L607.50 288.50 L607.50 288.50 L606.50 290.50 L605.50 291.50 L604.50 291.50 L601.50 291.50 L599.50 291.50 L597.50 290.50 L597.50 288.50 L597.50 288.50 L597.50 286.50 L598.50 286.50 M598.50 296.50 L597.50 295.50 L597.50 296.50 L597.50 296.50 L598.50 296.50 M607.50 306.50 L597.50 301.50 M607.50 299.50 L607.50 306.50 M607.50 314.50 L607.50 310.50 L603.50 309.50 L603.50 310.50 L604.50 311.50 L604.50 312.50 L603.50 314.50 L602.50 315.50 L601.50 315.50 L600.50 315.50 L598.50 315.50 L597.50 314.50 L597.50 312.50 L597.50 311.50 L597.50 310.50 L598.50 309.50 L599.50 309.50" fill="none" stroke="#ffffff" stroke-width="1" stroke-linecap="square" shape-rendering="crispEdges"/>
<path d="M33.50 371.50 L33.50 366.50 L36.50 369.50 L36.50 367.50 L37.50 367.50 L37.50 366.50 L39.50 366.50 L40.50 366.50 L41.50 366.50 L42.50 367.50 L43.50 368.50 L43.50 370.50 L42.50 371.50 L42.50 372.50 L41.50 372.50 M36.50 357.50 L37.50 357.50 L38.50 358.50 L39.50 360.50 L39.50 360.50 L38.50 361.50 L37.50 362.50 L36.50 363.50 L35.50 363.50 L34.50 362.50 L33.50 361.50 L33.50 360.50 L33.50 360.50 L33.50 358.50 L34.50 357.50 L36.50 357.50 L38.50 357.50 L41.50 357.50 L42.50 358.50 L43.50 360.50 L43.50 360.50 L42.50 362.50 L41.50 362.50 M42.50 353.50 L42.50 353.50 L43.50 353.50 L42.50 352.50 L42.50 353.50 M33.50 343.50 L33.50 348.50 L37.50 348.50 L36.50 348.50 L36.50 346.50 L36.50 345.50 L36.50 344.50 L37.50 343.50 L39.50 342.50 L40.50 342.50 L41.50 343.50 L42.50 344.50 L43.50 345.50 L43.50 346.50 L42.50 348.50 L42.50 348.50 L41.50 349.50 M33.50 337.50 L33.50 338.50 L35.50 339.50 L37.50 339.50 L38.50 339.50 L41.50 339.50 L42.50 338.50 L43.50 337.50 L43.50 336.50 L42.50 334.50 L41.50 333.50 L38.50 333.50 L37.50 333.50 L35.50 333.50 L33.50 334.50 L33.50 336.50 L33.50 337.50" fill="none" stroke="#ffffff" stroke-width="1" stroke-linecap="square" shape-rendering="crispEdges"/>
<path d="M607.50 334.50 L607.50 339.50 L603.50 336.50 L603.50 338.50 L603.50 338.50 L602.50 339.50 L601.50 339.50 L600.50 339.50 L598.50 339.50 L597.50 338.50 L597.50 337.50 L597.50 335.50 L597.50 334.50 L598.50 333.50 L599.50 333.50 M604.50 348.50 L602.50 348.50 L601.50 347.50 L601.50 345.50 L601.50 345.50 L601.50 344.50 L602.50 343.50 L604.50 342.50 L604.50 342.50 L605.50 343.50 L606.50 344.50 L607.50 345.50 L607.50 345.50 L606.50 347.50 L605.50 348.50 L604.50 348.50 L601.50 348.50 L599.50 348.50 L597.50 347.50 L597.50 345.50 L597.50 345.50 L597.50 343.50 L598.50 343.50 M598.50 353.50 L597.50 352.50 L597.50 353.50 L597.50 353.50 L598.50 353.50 M607.50 362.50 L607.50 357.50 L603.50 357.50 L603.50 357.50 L604.50 359.50 L604.50 360.50 L603.50 361.50 L602.50 362.50 L601.50 363.50 L600.50 363.50 L598.50 362.50 L597.50 361.50 L597.50 360.50 L597.50 359.50 L597.50 357.50 L598.50 357.50 L599.50 356.50 M607.50 368.50 L606.50 367.50 L605.50 366.50 L603.50 366.50 L601.50 366.50 L599.50 366.50 L597.50 367.50 L597.50 368.50 L597.50 369.50 L597.50 371.50 L599.50 372.50 L601.50 372.50 L603.50 372.50 L605.50 372.50 L606.50 371.50 L607.50 369.50 L607.50 368.50" fill="none" stroke="#ffffff" stroke-width="1" stroke-linecap="square" shape-rendering="crispEdges"/>
<path d="M33.50 428.50 L33.50 423.50 L36.50 426.50 L36.50 424.50 L37.50 424.50 L37.50 423.50 L39.50 423.50 L40.50 423.50 L41.50 423.50 L42.50 424.50 L43.50 425.50 L43.50 427.50 L42.50 428.50 L42.50 429.50 L41.50 429.50 M36.50 414.50 L37.50 414.50 L38.50 415.50 L39.50 417.50 L39.50 417.50 L38.50 418.50 L37.50 419.50 L36.50 420.50 L35.50 420.50 L34.50 419.50 L33.50 418.50 L33.50 417.50 L33.50 417.50 L33.50 415.50 L34.50 414.50 L36.50 414.50 L38.50 414.50 L41.50 414.50 L42.50 415.50 L43.50 417.50 L43.50 417.50 L42.50 419.50 L41.50 419.50 M42.50 410.50 L42.50 410.50 L43.50 410.50 L42.50 409.50 L42.50 410.50 M35.50 405.50 L35.50 405.50 L34.50 405.50 L33.50 404.50 L33.50 403.50 L33.50 402.50 L33.50 401.50 L34.50 400.50 L35.50 400.50 L35.50 400.50 L36.50 400.50 L38.50 401.50 L43.50 406.50 L43.50 399.50 M33.50 391.50 L33.50 395.50 L37.50 396.50 L36.50 395.50 L36.50 394.50 L36.50 393.50 L36.50 391.50 L37.50 390.50 L39.50 390.50 L40.50 390.50 L41.50 390.50 L42.50 391.50 L43.50 393.50 L43.50 394.50 L42.50 395.50 L42.50 396.50 L41.50 396.50" fill="none" stroke="#ffffff" stroke-width="1" stroke-linecap="square" shape-rendering="crispEdges"/>
<path d="M607.50 391.50 L607.50 396.50 L603.50 393.50 L603.50 395.50 L603.50 395.50 L602.50 396.50 L601.50 396.50 L600.50 396.50 L598.50 396.50 L597.50 395.50 L597.50 394.50 L597.50 392.50 L597.50 391.50 L598.50 390.50 L599.50 390.50 M604.50 405.50 L602.50 405.50 L601.50 404.50 L601.50 402.50 L601.50 402.50 L601.50 401.50 L602.50 400.50 L604.50 399.50 L604.50 399.50 L605.50 400.50 L606.50 401.50 L607.50 402.50 L607.50 402.50 L606.50 404.50 L605.50 405.50 L604.50 405.50 L601.50 405.50 L599.50 405.50 L597.50 404.50 L597.50 402.50 L597.50 402.50 L597.50 400.50 L598.50 400.50 M598.50 410.50 L597.50 409.50 L597.50 410.50 L597.50 410.50 L598.50 410.50 M604.50 414.50 L605.50 414.50 L606.50 414.50 L606.50 415.50 L607.50 416.50 L607.50 417.50 L606.50 418.50 L606.50 419.50 L605.50 419.50 L604.50 419.50 L603.50 419.50 L602.50 418.50 L597.50 413.50 L597.50 420.50 M607.50 428.50 L607.50 424.50 L603.50 423.50 L603.50 424.50 L604.50 425.50 L604.50 426.50 L603.50 428.50 L602.50 429.50 L601.50 429.50 L600.50 429.50 L598.50 429.50 L597.50 428.50 L597.50 426.50 L597.50 425.50 L597.50 424.50 L598.50 423.50 L599.50 423.50" fill="none" stroke="#ffffff" stroke-width="1" stroke-linecap="square" shape-rendering="crispEdges"/>
<path d="M33.50 473.50 L33.50 467.50 L36.50 470.50 L36.50 469.50 L37.50 468.50 L37.50 467.50 L39.50 467.50 L40.50 467.50 L41.50 467.50 L42.50 468.50 L43.50 470.50 L43.50 471.50 L42.50 473.50 L42.50 473.50 L41.50 473.50 M36.50 458.50 L37.50 458.50 L38.50 459.50 L39.50 461.50 L39.50 461.50 L38.50 463.50 L37.50 464.50 L36.50 464.50 L35.50 464.50 L34.50 464.50 L33.50 463.50 L33.50 461.50 L33.50 461.50 L33.50 459.50 L34.50 458.50 L36.50 458.50 L38.50 458.50 L41.50 458.50 L42.50 459.50 L43.50 461.50 L43.50 462.50 L42.50 463.50 L41.50 464.50" fill="none" stroke="#ffffff" stroke-width="1" stroke-linecap="square" shape-rendering="crispEdges"/>
<path d="M607.50 458.50 L607.50 464.50 L603.50 461.50 L603.50 462.50 L603.50 463.50 L602.50 464.50 L601.50 464.50 L600.50 464.50 L598.50 464.50 L597.50 463.50 L597.50 461.50 L597.50 460.50 L597.50 458.50 L598.50 458.50 L599.50 458.50 M604.50 473.50 L602.50 473.50 L601.50 472.50 L601.50 470.50 L601.50 470.50 L601.50 468.50 L602.50 467.50 L604.50 467.50 L604.50 467.50 L605.50 467.50 L606.50 468.50 L607.50 470.50 L607.50 470.50 L606.50 472.50 L605.50 473.50 L604.50 473.50 L601.50 473.50 L599.50 473.50 L597.50 472.50 L597.50 470.50 L597.50 469.50 L597.50 468.50 L598.50 467.50" fill="none" stroke="#ffffff" stroke-width="1" stroke-linecap="square" shape-rendering="crispEdges"/>
<path d="M33.50 541.50 L33.50 536.50 L36.50 539.50 L36.50 537.50 L37.50 537.50 L37.50 536.50 L39.50 536.50 L40.50 536.50 L41.50 536.50 L42.50 537.50 L43.50 538.50 L43.50 540.50 L42.50 541.50 L42.50 542.50 L41.50 542.50 M33.50 530.50 L33.50 532.50 L34.50 532.50 L35.50 532.50 L36.50 532.50 L36.50 531.50 L37.50 529.50 L37.50 528.50 L38.50 527.50 L39.50 526.50 L41.50 526.50 L42.50 527.50 L42.50 527.50 L43.50 529.50 L43.50 530.50 L42.50 532.50 L42.50 532.50 L41.50 533.50 L39.50 533.50 L38.50 532.50 L37.50 531.50 L37.50 530.50 L36.50 528.50 L36.50 527.50 L35.50 527.50 L34.50 527.50 L33.50 527.50 L33.50 529.50 L33.50 530.50 M42.50 523.50 L42.50 523.50 L43.50 523.50 L42.50 522.50 L42.50 523.50 M33.50 512.50 L43.50 517.50 M33.50 519.50 L33.50 512.50 M33.50 504.50 L33.50 508.50 L37.50 509.50 L36.50 508.50 L36.50 507.50 L36.50 506.50 L36.50 504.50 L37.50 503.50 L39.50 503.50 L40.50 503.50 L41.50 503.50 L42.50 504.50 L43.50 506.50 L43.50 507.50 L42.50 508.50 L42.50 509.50 L41.50 509.50" fill="none" stroke="#ffffff" stroke-width="1" stroke-linecap="square" shape-rendering="crispEdges"/>
<path d="M607.50 504.50 L607.50 509.50 L603.50 506.50 L603.50 508.50 L603.50 508.50 L602.50 509.50 L601.50 509.50 L600.50 509.50 L598.50 509.50 L597.50 508.50 L597.50 507.50 L597.50 505.50 L597.50 504.50 L598.50 503.50 L599.50 503.50 M607.50 515.50 L606.50 513.50 L605.50 513.50 L604.50 513.50 L604.50 513.50 L603.50 514.50 L603.50 516.50 L602.50 517.50 L601.50 518.50 L600.50 519.50 L599.50 519.50 L598.50 518.50 L597.50 518.50 L597.50 516.50 L597.50 515.50 L597.50 513.50 L598.50 513.50 L599.50 512.50 L600.50 512.50 L601.50 513.50 L602.50 514.50 L603.50 515.50 L603.50 517.50 L604.50 518.50 L604.50 518.50 L605.50 518.50 L606.50 518.50 L607.50 516.50 L607.50 515.50 M598.50 523.50 L597.50 522.50 L597.50 523.50 L597.50 523.50 L598.50 523.50 M607.50 533.50 L597.50 528.50 M607.50 526.50 L607.50 533.50 M607.50 541.50 L607.50 537.50 L603.50 536.50 L603.50 537.50 L604.50 538.50 L604.50 539.50 L603.50 541.50 L602.50 542.50 L601.50 542.50 L600.50 542.50 L598.50 542.50 L597.50 541.50 L597.50 539.50 L597.50 538.50 L597.50 537.50 L598.50 536.50 L599.50 536.50" fill="none" stroke="#ffffff" stroke-width="1" stroke-linecap="square" shape-rendering="crispEdges"/>
<path d="M33.50 597.50 L33.50 592.50 L36.50 595.50 L36.50 593.50 L37.50 593.50 L37.50 592.50 L39.50 592.50 L40.50 592.50 L41.50 592.50 L42.50 593.50 L43.50 594.50 L43.50 596.50 L42.50 597.50 L42.50 598.50 L41.50 598.50 M33.50 586.50 L33.50 588.50 L34.50 588.50 L35.50 588.50 L36.50 588.50 L36.50 587.50 L37.50 585.50 L37.50 584.50 L38.50 583.50 L39.50 582.50 L41.50 582.50 L42.50 583.50 L42.50 583.50 L43.50 585.50 L43.50 586.50 L42.50 588.50 L42.50 588.50 L41.50 589.50 L39.50 589.50 L38.50 588.50 L37.50 587.50 L37.50 586.50 L36.50 584.50 L36.50 583.50 L35.50 583.50 L34.50 583.50 L33.50 583.50 L33.50 585.50 L33.50 586.50 M42.50 579.50 L42.50 579.50 L43.50 579.50 L42.50 578.50 L42.50 579.50 M33.50 569.50 L33.50 574.50 L37.50 574.50 L36.50 574.50 L36.50 572.50 L36.50 571.50 L36.50 570.50 L37.50 569.50 L39.50 568.50 L40.50 568.50 L41.50 569.50 L42.50 570.50 L43.50 571.50 L43.50 572.50 L42.50 574.50 L42.50 574.50 L41.50 575.50 M33.50 563.50 L33.50 564.50 L35.50 565.50 L37.50 565.50 L38.50 565.50 L41.50 565.50 L42.50 564.50 L43.50 563.50 L43.50 562.50 L42.50 560.50 L41.50 559.50 L38.50 559.50 L37.50 559.50 L35.50 559.50 L33.50 560.50 L33.50 562.50 L33.50 563.50" fill="none" stroke="#ffffff" stroke-width="1" stroke-linecap="square" shape-rendering="crispEdges"/>
<path d="M607.50 560.50 L607.50 565.50 L603.50 562.50 L603.50 564.50 L603.50 564.50 L602.50 565.50 L601.50 565.50 L600.50 565.50 L598.50 565.50 L597.50 564.50 L597.50 563.50 L597.50 561.50 L597.50 560.50 L598.50 559.50 L599.50 559.50 M607.50 571.50 L606.50 569.50 L605.50 569.50 L604.50 569.50 L604.50 569.50 L603.50 570.50 L603.50 572.50 L602.50 573.50 L601.50 574.50 L600.50 575.50 L599.50 575.50 L598.50 574.50 L597.50 574.50 L597.50 572.50 L597.50 571.50 L597.50 569.50 L598.50 569.50 L599.50 568.50 L600.50 568.50 L601.50 569.50 L602.50 570.50 L603.50 571.50 L603.50 573.50 L604.50 574.50 L604.50 574.50 L605.50 574.50 L606.50 574.50 L607.50 572.50 L607.50 571.50 M598.50 579.50 L597.50 578.50 L597.50 579.50 L597.50 579.50 L598.50 579.50 M607.50 588.50 L607.50 583.50 L603.50 583.50 L603.50 583.50 L604.50 585.50 L604.50 586.50 L603.50 587.50 L602.50 588.50 L601.50 589.50 L600.50 589.50 L598.50 588.50 L597.50 587.50 L597.50 586.50 L597.50 585.50 L597.50 583.50 L598.50 583.50 L599.50 582.50 M607.50 594.50 L606.50 593.50 L605.50 592.50 L603.50 592.50 L601.50 592.50 L599.50 592.50 L597.50 593.50 L597.50 594.50 L597.50 595.50 L597.50 597.50 L599.50 598.50 L601.50 598.50 L603.50 598.50 L605.50 598.50 L606.50 597.50 L607.50 595.50 L607.50 594.50" fill="none" stroke="#ffffff" stroke-width="1" stroke-linecap="square" shape-rendering="crispEdges"/>
<circle cx="373.4" cy="509.4" r="5.7" fill="#00ff00"/>
<circle cx="373.4" cy="534.4" r="5.7" fill="#ff0000"/>
<polygon points="373.20,553.60 375.03,558.68 380.43,558.85 376.16,562.16 377.67,567.35 373.20,564.32 368.73,567.35 370.24,562.16 365.97,558.85 371.37,558.68" fill="#ffff00"/>
<path d="M397.50 507.50 L396.50 506.50 L395.50 505.50 L394.50 505.50 L392.50 506.50 L392.50 507.50 L392.50 507.50 L392.50 508.50 L392.50 509.50 L393.50 509.50 L396.50 510.50 L396.50 510.50 L397.50 511.50 L397.50 512.50 L397.50 513.50 L396.50 514.50 L395.50 514.50 L394.50 514.50 L392.50 514.50 L392.50 513.50 M400.50 505.50 L400.50 513.50 L401.50 514.50 L402.50 514.50 L402.50 514.50 M399.50 508.50 L402.50 508.50 M409.50 508.50 L409.50 514.50 M409.50 510.50 L408.50 509.50 L407.50 508.50 L406.50 508.50 L406.50 509.50 L405.50 510.50 L404.50 511.50 L404.50 512.50 L405.50 513.50 L406.50 514.50 L406.50 514.50 L407.50 514.50 L408.50 514.50 L409.50 513.50 M412.50 508.50 L412.50 514.50 M412.50 511.50 L413.50 510.50 L413.50 509.50 L414.50 508.50 L415.50 508.50 M418.50 505.50 L418.50 513.50 L418.50 514.50 L419.50 514.50 L420.50 514.50 M417.50 508.50 L419.50 508.50 M430.50 508.50 L429.50 509.50 L428.50 510.50 L428.50 511.50 L428.50 512.50 L428.50 513.50 L429.50 514.50 L430.50 514.50 L431.50 514.50 L432.50 514.50 L433.50 513.50 L433.50 512.50 L433.50 511.50 L433.50 510.50 L432.50 509.50 L431.50 508.50 L430.50 508.50 M436.50 508.50 L436.50 514.50 M436.50 510.50 L437.50 509.50 L438.50 508.50 L439.50 508.50 L440.50 509.50 L440.50 510.50 L440.50 514.50 M451.50 507.50 L451.50 507.50 L453.50 505.50 L453.50 514.50 M458.50 507.50 L458.50 507.50 L458.50 506.50 L458.50 506.50 L459.50 505.50 L461.50 505.50 L462.50 506.50 L462.50 506.50 L462.50 507.50 L462.50 508.50 L462.50 509.50 L461.50 510.50 L457.50 514.50 L463.50 514.50 M472.50 504.50 L465.50 517.50 M476.50 505.50 L475.50 506.50 L474.50 507.50 L474.50 509.50 L474.50 510.50 L474.50 513.50 L475.50 514.50 L476.50 514.50 L477.50 514.50 L478.50 514.50 L479.50 513.50 L479.50 510.50 L479.50 509.50 L479.50 507.50 L478.50 506.50 L477.50 505.50 L476.50 505.50 M483.50 505.50 L487.50 505.50 L485.50 509.50 L486.50 509.50 L486.50 509.50 L487.50 510.50 L487.50 511.50 L487.50 512.50 L487.50 513.50 L486.50 514.50 L485.50 514.50 L484.50 514.50 L483.50 514.50 L482.50 513.50 L482.50 513.50 M496.50 504.50 L489.50 517.50 M499.50 507.50 L499.50 507.50 L499.50 506.50 L500.50 506.50 L500.50 505.50 L502.50 505.50 L503.50 506.50 L503.50 506.50 L503.50 507.50 L503.50 508.50 L503.50 509.50 L502.50 510.50 L498.50 514.50 L504.50 514.50 M510.50 505.50 L506.50 511.50 L512.50 511.50 M510.50 505.50 L510.50 514.50 M522.50 507.50 L522.50 507.50 L524.50 505.50 L524.50 514.50 M531.50 505.50 L530.50 506.50 L529.50 507.50 L528.50 509.50 L528.50 510.50 L529.50 513.50 L530.50 514.50 L531.50 514.50 L532.50 514.50 L533.50 514.50 L533.50 513.50 L534.50 510.50 L534.50 509.50 L533.50 507.50 L533.50 506.50 L532.50 505.50 L531.50 505.50 M537.50 508.50 L537.50 509.50 L537.50 509.50 L537.50 509.50 L537.50 508.50 M537.50 513.50 L537.50 514.50 L537.50 514.50 L537.50 514.50 L537.50 513.50 M541.50 507.50 L542.50 507.50 L543.50 505.50 L543.50 514.50 M553.50 508.50 L553.50 510.50 L552.50 510.50 L551.50 511.50 L550.50 511.50 L549.50 510.50 L549.50 510.50 L548.50 508.50 L548.50 508.50 L549.50 507.50 L549.50 506.50 L550.50 505.50 L551.50 505.50 L552.50 506.50 L553.50 507.50 L553.50 508.50 L553.50 510.50 L553.50 513.50 L552.50 514.50 L551.50 514.50 L550.50 514.50 L549.50 514.50 L549.50 513.50" fill="none" stroke="#ffffff" stroke-width="1" stroke-linecap="square" shape-rendering="crispEdges"/>
<path d="M393.50 531.50 L393.50 540.50 M393.50 540.50 L397.50 540.50 M404.50 534.50 L404.50 540.50 M404.50 535.50 L403.50 534.50 L402.50 534.50 L401.50 534.50 L400.50 534.50 L399.50 535.50 L399.50 537.50 L399.50 537.50 L399.50 539.50 L400.50 540.50 L401.50 540.50 L402.50 540.50 L403.50 540.50 L404.50 539.50 M411.50 535.50 L410.50 534.50 L409.50 534.50 L408.50 534.50 L407.50 534.50 L406.50 535.50 L407.50 536.50 L408.50 537.50 L410.50 537.50 L410.50 537.50 L411.50 538.50 L411.50 539.50 L410.50 540.50 L409.50 540.50 L408.50 540.50 L407.50 540.50 L406.50 539.50 M414.50 531.50 L414.50 538.50 L414.50 540.50 L415.50 540.50 L416.50 540.50 M413.50 534.50 L415.50 534.50 M426.50 534.50 L425.50 534.50 L425.50 535.50 L424.50 537.50 L424.50 537.50 L425.50 539.50 L425.50 540.50 L426.50 540.50 L427.50 540.50 L428.50 540.50 L429.50 539.50 L429.50 537.50 L429.50 537.50 L429.50 535.50 L428.50 534.50 L427.50 534.50 L426.50 534.50 M432.50 534.50 L432.50 540.50 M432.50 536.50 L433.50 534.50 L434.50 534.50 L435.50 534.50 L436.50 534.50 L436.50 536.50 L436.50 540.50 M448.50 531.50 L447.50 532.50 L446.50 533.50 L446.50 535.50 L446.50 536.50 L446.50 538.50 L447.50 540.50 L448.50 540.50 L449.50 540.50 L450.50 540.50 L451.50 538.50 L451.50 536.50 L451.50 535.50 L451.50 533.50 L450.50 532.50 L449.50 531.50 L448.50 531.50 M455.50 533.50 L455.50 532.50 L457.50 531.50 L457.50 540.50 M468.50 529.50 L461.50 543.50 M472.50 531.50 L471.50 532.50 L470.50 533.50 L470.50 535.50 L470.50 536.50 L470.50 538.50 L471.50 540.50 L472.50 540.50 L473.50 540.50 L474.50 540.50 L475.50 538.50 L476.50 536.50 L476.50 535.50 L475.50 533.50 L474.50 532.50 L473.50 531.50 L472.50 531.50 M479.50 531.50 L483.50 531.50 L481.50 534.50 L482.50 534.50 L483.50 535.50 L483.50 535.50 L483.50 537.50 L483.50 537.50 L483.50 539.50 L482.50 540.50 L481.50 540.50 L480.50 540.50 L479.50 540.50 L478.50 539.50 L478.50 538.50 M493.50 529.50 L485.50 543.50 M495.50 533.50 L495.50 533.50 L495.50 532.50 L496.50 532.50 L496.50 531.50 L498.50 531.50 L499.50 532.50 L499.50 532.50 L500.50 533.50 L500.50 534.50 L499.50 534.50 L498.50 536.50 L494.50 540.50 L500.50 540.50 M507.50 531.50 L503.50 531.50 L503.50 535.50 L503.50 534.50 L504.50 534.50 L506.50 534.50 L507.50 534.50 L508.50 535.50 L508.50 537.50 L508.50 537.50 L508.50 539.50 L507.50 540.50 L506.50 540.50 L504.50 540.50 L503.50 540.50 L503.50 539.50 L502.50 538.50 M519.50 531.50 L518.50 532.50 L517.50 533.50 L517.50 535.50 L517.50 536.50 L517.50 538.50 L518.50 540.50 L519.50 540.50 L520.50 540.50 L521.50 540.50 L522.50 538.50 L522.50 536.50 L522.50 535.50 L522.50 533.50 L521.50 532.50 L520.50 531.50 L519.50 531.50 M526.50 533.50 L526.50 532.50 L528.50 531.50 L528.50 540.50 M533.50 534.50 L533.50 534.50 L533.50 535.50 L534.50 534.50 L533.50 534.50 M533.50 539.50 L533.50 540.50 L533.50 540.50 L534.50 540.50 L533.50 539.50 M540.50 531.50 L536.50 537.50 L542.50 537.50 M540.50 531.50 L540.50 540.50 M549.50 534.50 L549.50 535.50 L548.50 536.50 L547.50 537.50 L547.50 537.50 L545.50 536.50 L545.50 535.50 L544.50 534.50 L544.50 534.50 L545.50 532.50 L545.50 532.50 L547.50 531.50 L547.50 531.50 L548.50 532.50 L549.50 532.50 L549.50 534.50 L549.50 536.50 L549.50 538.50 L548.50 540.50 L547.50 540.50 L546.50 540.50 L545.50 540.50 L545.50 539.50" fill="none" stroke="#ffffff" stroke-width="1" stroke-linecap="square" shape-rendering="crispEdges"/>
<path d="M397.50 558.50 L396.50 557.50 L395.50 557.50 L394.50 557.50 L392.50 557.50 L392.50 558.50 L392.50 559.50 L392.50 560.50 L392.50 560.50 L393.50 561.50 L396.50 561.50 L396.50 562.50 L397.50 562.50 L397.50 563.50 L397.50 564.50 L396.50 565.50 L395.50 566.50 L394.50 566.50 L392.50 565.50 L392.50 564.50 M400.50 562.50 L404.50 562.50 L404.50 561.50 L404.50 561.50 L404.50 560.50 L403.50 560.50 L402.50 560.50 L401.50 560.50 L400.50 561.50 L400.50 562.50 L400.50 563.50 L400.50 564.50 L401.50 565.50 L402.50 566.50 L403.50 566.50 L404.50 565.50 L404.50 564.50 M407.50 557.50 L407.50 566.50 M410.50 562.50 L415.50 562.50 L415.50 561.50 L414.50 561.50 L414.50 560.50 L413.50 560.50 L412.50 560.50 L411.50 560.50 L410.50 561.50 L410.50 562.50 L410.50 563.50 L410.50 564.50 L411.50 565.50 L412.50 566.50 L413.50 566.50 L414.50 565.50 L415.50 564.50 M422.50 561.50 L421.50 560.50 L420.50 560.50 L419.50 560.50 L418.50 560.50 L417.50 561.50 L417.50 562.50 L417.50 563.50 L417.50 564.50 L418.50 565.50 L419.50 566.50 L420.50 566.50 L421.50 565.50 L422.50 564.50 M425.50 557.50 L425.50 564.50 L425.50 565.50 L426.50 566.50 L427.50 566.50 M424.50 560.50 L426.50 560.50 M429.50 562.50 L434.50 562.50 L434.50 561.50 L433.50 561.50 L433.50 560.50 L432.50 560.50 L431.50 560.50 L430.50 560.50 L429.50 561.50 L429.50 562.50 L429.50 563.50 L429.50 564.50 L430.50 565.50 L431.50 566.50 L432.50 566.50 L433.50 565.50 L434.50 564.50 M441.50 557.50 L441.50 566.50 M441.50 561.50 L440.50 560.50 L439.50 560.50 L438.50 560.50 L437.50 560.50 L436.50 561.50 L436.50 562.50 L436.50 563.50 L436.50 564.50 L437.50 565.50 L438.50 566.50 L439.50 566.50 L440.50 565.50 L441.50 564.50 M452.50 560.50 L451.50 560.50 L450.50 561.50 L450.50 562.50 L450.50 563.50 L450.50 564.50 L451.50 565.50 L452.50 566.50 L453.50 566.50 L454.50 565.50 L454.50 564.50 L455.50 563.50 L455.50 562.50 L454.50 561.50 L454.50 560.50 L453.50 560.50 L452.50 560.50 M458.50 560.50 L458.50 566.50 M458.50 561.50 L459.50 560.50 L460.50 560.50 L461.50 560.50 L462.50 560.50 L462.50 561.50 L462.50 566.50 M473.50 557.50 L472.50 557.50 L471.50 558.50 L471.50 561.50 L471.50 562.50 L471.50 564.50 L472.50 565.50 L473.50 566.50 L474.50 566.50 L475.50 565.50 L476.50 564.50 L477.50 562.50 L477.50 561.50 L476.50 558.50 L475.50 557.50 L474.50 557.50 L473.50 557.50 M480.50 558.50 L481.50 558.50 L482.50 557.50 L482.50 566.50 M494.50 555.50 L486.50 569.50 M498.50 557.50 L497.50 557.50 L496.50 558.50 L496.50 561.50 L496.50 562.50 L496.50 564.50 L497.50 565.50 L498.50 566.50 L499.50 566.50 L500.50 565.50 L501.50 564.50 L501.50 562.50 L501.50 561.50 L501.50 558.50 L500.50 557.50 L499.50 557.50 L498.50 557.50 M505.50 558.50 L505.50 558.50 L507.50 557.50 L507.50 566.50 M518.50 555.50 L511.50 569.50 M520.50 559.50 L520.50 558.50 L521.50 558.50 L521.50 557.50 L522.50 557.50 L524.50 557.50 L524.50 557.50 L525.50 558.50 L525.50 558.50 L525.50 559.50 L525.50 560.50 L524.50 561.50 L520.50 566.50 L526.50 566.50 M533.50 557.50 L529.50 557.50 L528.50 561.50 L529.50 560.50 L530.50 560.50 L531.50 560.50 L532.50 560.50 L533.50 561.50 L533.50 562.50 L533.50 563.50 L533.50 564.50 L532.50 565.50 L531.50 566.50 L530.50 566.50 L529.50 565.50 L528.50 565.50 L528.50 564.50 M543.50 559.50 L543.50 558.50 L543.50 558.50 L543.50 557.50 L544.50 557.50 L546.50 557.50 L547.50 557.50 L547.50 558.50 L547.50 558.50 L547.50 559.50 L547.50 560.50 L546.50 561.50 L542.50 566.50 L548.50 566.50 M550.50 559.50 L550.50 558.50 L551.50 558.50 L551.50 557.50 L552.50 557.50 L554.50 557.50 L554.50 557.50 L555.50 558.50 L555.50 558.50 L555.50 559.50 L555.50 560.50 L554.50 561.50 L550.50 566.50 L556.50 566.50 M559.50 560.50 L558.50 560.50 L559.50 561.50 L559.50 560.50 L559.50 560.50 M559.50 565.50 L558.50 565.50 L559.50 566.50 L559.50 565.50 L559.50 565.50 M563.50 557.50 L567.50 557.50 L565.50 560.50 L566.50 560.50 L567.50 561.50 L567.50 561.50 L567.50 562.50 L567.50 563.50 L567.50 564.50 L566.50 565.50 L565.50 566.50 L564.50 566.50 L563.50 565.50 L562.50 565.50 L562.50 564.50 M574.50 557.50 L570.50 563.50 L576.50 563.50 M574.50 557.50 L574.50 566.50" fill="none" stroke="#ffffff" stroke-width="1" stroke-linecap="square" shape-rendering="crispEdges"/>
</svg>
</body></html>
